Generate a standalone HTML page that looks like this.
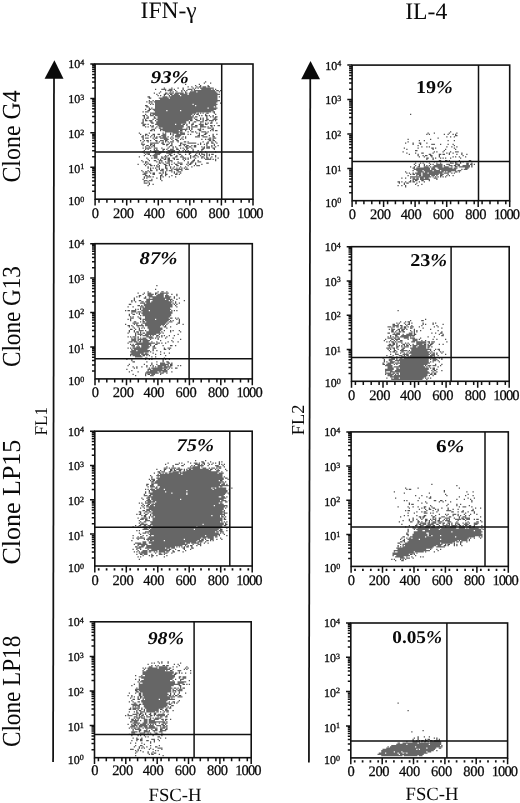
<!DOCTYPE html>
<html><head><meta charset="utf-8"><title>Figure</title>
<style>html,body{margin:0;padding:0;background:#fff}svg{display:block}</style></head>
<body>
<svg width="520" height="803" viewBox="0 0 520 803" font-family="'Liberation Serif', serif" fill="#0a0a0a" text-rendering="geometricPrecision">
<rect width="520" height="803" fill="#fff"/>
<text x="140.6" y="17.7" font-size="23.5">IFN-γ</text>
<text x="405.2" y="19.2" font-size="23.7">IL-4</text>
<g stroke="#111" stroke-width="1.75" fill="none"><path d="M54.0 70L53.1 761.9"/><path d="M310.3 70L308.9 762.4"/></g>
<path d="M54.4 60.2L63.5 78.8H44.6Z"/><path d="M310.5 61L320 79.2H301.2Z"/>
<text transform="translate(20.3 182.6) rotate(-90) scale(0.92 1)" font-size="26">Clone G4</text>
<text transform="translate(20.3 367) rotate(-90) scale(0.89 1)" font-size="26">Clone G13</text>
<text transform="translate(20.3 564.6) rotate(-90) scale(1.0 1)" font-size="26">Clone LP15</text>
<text transform="translate(20.1 747) rotate(-90) scale(0.89 1)" font-size="26">Clone LP18</text>
<text transform="translate(47.3 435.6) rotate(-90) scale(0.96 1)" font-size="18">FL1</text>
<text transform="translate(303.7 435.2) rotate(-90) scale(1 1)" font-size="18.3">FL2</text>
<text x="148.5" y="800.8" font-size="18.7">FSC-H</text>
<text x="405.5" y="800.2" font-size="18.7">FSC-H</text>
<g id="L1">
<path d="M202.5 86.88h3.75M200 88.12h13.75M161.25 89.38h5M168.75 89.38h3.75M187.5 89.38h5M201.25 89.38h10M167.5 90.62h5M193.75 90.62h21.25M190 91.88h6.25M197.5 91.88h18.75M168.75 93.12h5M175 93.12h8.75M188.75 93.12h28.75M173.75 94.38h5M180 94.38h7.5M188.75 94.38h31.25M171.25 95.62h8.75M181.25 95.62h36.25M162.5 96.88h5M168.75 96.88h48.75M158.75 98.12h10M170 98.12h47.5M160 99.38h57.5M155 100.62h65M148.75 101.88h3.75M153.75 101.88h63.75M155 103.12h61.25M155 104.38h37.5M193.75 104.38h23.75M155 105.62h40M196.25 105.62h20M155 106.88h58.75M155 108.12h52.5M208.75 108.12h8.75M152.5 109.38h63.75M153.75 110.62h12.5M167.5 110.62h12.5M181.25 110.62h32.5M145 111.88h3.75M155 111.88h56.25M150 113.12h46.25M152.5 114.38h40M150 115.62h3.75M155 115.62h36.25M157.5 116.88h36.25M157.5 118.12h35M156.25 119.38h36.25M212.5 119.38h5M148.75 120.62h3.75M157.5 120.62h31.25M196.25 120.62h3.75M208.75 120.62h5M156.25 121.88h30M200 121.88h3.75M156.25 123.12h30M142.5 124.38h3.75M155 124.38h20M176.25 124.38h5M198.75 124.38h5M157.5 125.62h26.25M200 125.62h3.75M158.75 126.88h25M191.25 126.88h6.25M200 126.88h6.25M162.5 128.12h20M207.5 128.12h3.75M151.25 129.38h3.75M160 129.38h27.5M197.5 129.38h3.75M162.5 130.62h16.25M165 131.88h17.5M201.25 131.88h5M172.5 133.12h6.25M180 133.12h5M162.5 134.38h3.75M176.25 134.38h8.75M161.25 135.62h5M175 135.62h6.25M162.5 136.88h3.75M175 136.88h5M195 136.88h5M202.5 136.88h5M145 138.12h3.75M160 138.12h7.5M212.5 138.12h3.75M163.75 139.38h5M207.5 139.38h3.75M160 140.62h3.75M170 141.88h3.75M150 143.12h8.75M187.5 143.12h8.75M141.25 144.38h3.75M182.5 144.38h3.75M206.25 146.88h3.75M145 148.12h6.25M153.75 148.12h3.75M206.25 148.12h3.75M170 149.38h3.75M153.75 150.62h5M167.5 150.62h7.5M152.5 151.88h3.75M158.75 151.88h6.25M171.25 151.88h3.75M185 151.88h6.25M146.25 153.12h3.75M155 153.12h6.25M166.25 153.12h6.25M153.75 154.38h6.25M201.25 154.38h3.75M152.5 155.62h5M193.75 155.62h3.75M153.75 156.88h3.75M163.75 156.88h3.75M180 156.88h3.75M153.75 158.12h3.75M182.5 158.12h3.75M205 159.38h6.25M158.75 160.62h3.75M167.5 160.62h5M197.5 161.88h3.75M166.25 163.12h3.75M177.5 163.12h5M196.25 165.62h3.75M156.25 166.88h3.75M173.75 169.38h8.75M185 169.38h3.75M160 170.62h3.75M168.75 170.62h3.75M177.5 171.88h3.75M143.75 173.12h3.75M142.5 174.38h3.75M146.25 176.88h5M143.75 180.62h3.75M148.75 180.62h3.75M143.75 183.12h3.75" stroke="#666666" stroke-width="1.25" fill="none"/>
<path d="M205 81.88h1.25M203.75 83.12h1.25M210 83.12h1.25M185 84.38h1.25M198.75 84.38h1.25M195 85.62h1.25M200 85.62h1.25M207.5 85.62h1.25M187.5 86.88h1.25M191.25 86.88h1.25M196.25 86.88h1.25M198.75 86.88h2.5M207.5 86.88h2.5M163.75 88.12h1.25M171.25 88.12h1.25M177.5 88.12h1.25M182.5 88.12h1.25M192.5 88.12h1.25M195 88.12h1.25M197.5 88.12h1.25M155 89.38h1.25M173.75 89.38h1.25M182.5 89.38h1.25M193.75 89.38h1.25M212.5 89.38h1.25M215 89.38h1.25M165 90.62h1.25M175 90.62h1.25M181.25 90.62h1.25M183.75 90.62h1.25M186.25 90.62h1.25M191.25 90.62h1.25M216.25 90.62h2.5M220 90.62h1.25M160 91.88h1.25M170 91.88h1.25M172.5 91.88h1.25M176.25 91.88h1.25M181.25 91.88h1.25M185 91.88h1.25M218.75 91.88h1.25M153.75 93.12h1.25M158.75 93.12h1.25M165 93.12h2.5M185 93.12h2.5M156.25 94.38h1.25M163.75 94.38h2.5M167.5 94.38h1.25M170 94.38h2.5M157.5 95.62h1.25M160 95.62h1.25M163.75 95.62h1.25M168.75 95.62h1.25M147.5 96.88h2.5M218.75 96.88h1.25M148.75 98.12h2.5M148.75 100.62h1.25M152.5 100.62h1.25M146.25 101.88h1.25M148.75 103.12h1.25M151.25 103.12h1.25M220 103.12h1.25M150 104.38h1.25M152.5 104.38h1.25M145 105.62h2.5M146.25 106.88h2.5M215 106.88h1.25M148.75 108.12h1.25M151.25 108.12h1.25M145 109.38h1.25M148.75 109.38h2.5M147.5 110.62h2.5M142.5 111.88h1.25M212.5 111.88h2.5M197.5 113.12h1.25M200 113.12h1.25M202.5 113.12h1.25M206.25 113.12h2.5M213.75 113.12h1.25M145 114.38h1.25M150 114.38h1.25M193.75 114.38h1.25M196.25 114.38h2.5M205 114.38h1.25M215 114.38h1.25M142.5 115.62h2.5M146.25 115.62h1.25M192.5 115.62h1.25M198.75 115.62h1.25M201.25 115.62h1.25M205 115.62h2.5M208.75 115.62h1.25M212.5 115.62h1.25M143.75 116.88h1.25M147.5 116.88h1.25M153.75 116.88h1.25M195 116.88h2.5M206.25 116.88h1.25M210 116.88h1.25M212.5 116.88h1.25M215 116.88h2.5M143.75 118.12h1.25M146.25 118.12h2.5M153.75 118.12h2.5M193.75 118.12h1.25M200 118.12h1.25M202.5 118.12h1.25M206.25 118.12h1.25M213.75 118.12h2.5M142.5 119.38h1.25M145 119.38h1.25M152.5 119.38h1.25M195 119.38h2.5M200 119.38h1.25M202.5 119.38h1.25M206.25 119.38h2.5M142.5 120.62h1.25M145 120.62h2.5M155 120.62h1.25M190 120.62h2.5M202.5 120.62h1.25M205 120.62h2.5M215 120.62h1.25M142.5 121.88h1.25M150 121.88h2.5M188.75 121.88h1.25M193.75 121.88h2.5M211.25 121.88h1.25M141.25 123.12h2.5M151.25 123.12h2.5M188.75 123.12h1.25M192.5 123.12h1.25M200 123.12h1.25M205 123.12h1.25M207.5 123.12h1.25M210 123.12h2.5M216.25 123.12h1.25M147.5 124.38h1.25M182.5 124.38h2.5M186.25 124.38h1.25M191.25 124.38h2.5M205 124.38h2.5M142.5 125.62h2.5M150 125.62h1.25M152.5 125.62h1.25M186.25 125.62h1.25M191.25 125.62h1.25M195 125.62h2.5M210 125.62h2.5M213.75 125.62h1.25M217.5 125.62h2.5M145 126.88h1.25M147.5 126.88h1.25M151.25 126.88h2.5M156.25 126.88h1.25M187.5 126.88h2.5M207.5 126.88h1.25M211.25 126.88h1.25M155 128.12h1.25M158.75 128.12h2.5M186.25 128.12h1.25M188.75 128.12h1.25M191.25 128.12h1.25M200 128.12h1.25M212.5 128.12h1.25M188.75 129.38h1.25M191.25 129.38h1.25M202.5 129.38h1.25M211.25 129.38h2.5M150 130.62h2.5M153.75 130.62h1.25M160 130.62h1.25M180 130.62h2.5M185 130.62h1.25M190 130.62h1.25M198.75 130.62h2.5M210 130.62h1.25M212.5 130.62h1.25M215 130.62h2.5M187.5 131.88h1.25M191.25 131.88h2.5M195 131.88h1.25M207.5 131.88h1.25M138.75 133.12h1.25M148.75 133.12h1.25M162.5 133.12h1.25M165 133.12h1.25M170 133.12h1.25M196.25 133.12h1.25M198.75 133.12h1.25M205 133.12h2.5M140 134.38h1.25M145 134.38h2.5M152.5 134.38h2.5M157.5 134.38h2.5M170 134.38h1.25M172.5 134.38h1.25M187.5 134.38h1.25M190 134.38h1.25M198.75 134.38h1.25M203.75 134.38h2.5M212.5 134.38h1.25M216.25 134.38h1.25M142.5 135.62h1.25M145 135.62h1.25M147.5 135.62h1.25M151.25 135.62h1.25M153.75 135.62h1.25M172.5 135.62h1.25M197.5 135.62h2.5M201.25 135.62h2.5M208.75 135.62h1.25M212.5 135.62h1.25M141.25 136.88h2.5M150 136.88h1.25M153.75 136.88h1.25M156.25 136.88h1.25M158.75 136.88h2.5M167.5 136.88h1.25M171.25 136.88h1.25M182.5 136.88h1.25M185 136.88h1.25M212.5 136.88h2.5M142.5 138.12h1.25M152.5 138.12h1.25M155 138.12h2.5M170 138.12h1.25M172.5 138.12h1.25M177.5 138.12h1.25M181.25 138.12h1.25M185 138.12h1.25M208.75 138.12h2.5M142.5 139.38h1.25M153.75 139.38h1.25M171.25 139.38h1.25M175 139.38h2.5M180 139.38h1.25M182.5 139.38h1.25M201.25 139.38h1.25M205 139.38h1.25M212.5 139.38h1.25M140 140.62h1.25M143.75 140.62h1.25M146.25 140.62h2.5M150 140.62h1.25M155 140.62h2.5M165 140.62h2.5M172.5 140.62h1.25M176.25 140.62h2.5M208.75 140.62h2.5M212.5 140.62h2.5M142.5 141.88h1.25M147.5 141.88h1.25M156.25 141.88h1.25M158.75 141.88h1.25M162.5 141.88h1.25M165 141.88h1.25M167.5 141.88h1.25M177.5 141.88h1.25M183.75 141.88h2.5M187.5 141.88h1.25M202.5 141.88h1.25M207.5 141.88h1.25M211.25 141.88h1.25M215 141.88h1.25M141.25 143.12h1.25M161.25 143.12h2.5M168.75 143.12h1.25M171.25 143.12h1.25M180 143.12h2.5M200 143.12h1.25M206.25 143.12h2.5M211.25 143.12h2.5M216.25 143.12h1.25M150 144.38h2.5M153.75 144.38h1.25M162.5 144.38h2.5M166.25 144.38h2.5M171.25 144.38h1.25M180 144.38h1.25M197.5 144.38h1.25M200 144.38h1.25M203.75 144.38h1.25M206.25 144.38h1.25M213.75 144.38h1.25M142.5 145.62h1.25M146.25 145.62h2.5M150 145.62h1.25M152.5 145.62h2.5M166.25 145.62h1.25M170 145.62h2.5M178.75 145.62h2.5M183.75 145.62h1.25M186.25 145.62h2.5M191.25 145.62h1.25M193.75 145.62h2.5M206.25 145.62h1.25M211.25 145.62h1.25M213.75 145.62h1.25M217.5 145.62h1.25M145 146.88h1.25M148.75 146.88h1.25M151.25 146.88h1.25M153.75 146.88h1.25M168.75 146.88h1.25M172.5 146.88h1.25M175 146.88h1.25M185 146.88h2.5M188.75 146.88h2.5M193.75 146.88h2.5M201.25 146.88h1.25M203.75 146.88h1.25M211.25 146.88h1.25M215 146.88h1.25M142.5 148.12h1.25M161.25 148.12h1.25M167.5 148.12h1.25M172.5 148.12h1.25M176.25 148.12h1.25M180 148.12h1.25M182.5 148.12h1.25M186.25 148.12h2.5M191.25 148.12h1.25M202.5 148.12h2.5M212.5 148.12h2.5M145 149.38h1.25M147.5 149.38h1.25M153.75 149.38h1.25M156.25 149.38h1.25M162.5 149.38h2.5M166.25 149.38h1.25M176.25 149.38h2.5M183.75 149.38h1.25M186.25 149.38h1.25M192.5 149.38h1.25M201.25 149.38h2.5M213.75 149.38h1.25M143.75 150.62h1.25M150 150.62h1.25M162.5 150.62h1.25M178.75 150.62h1.25M182.5 150.62h1.25M185 150.62h1.25M187.5 150.62h1.25M192.5 150.62h1.25M197.5 150.62h1.25M201.25 150.62h1.25M142.5 151.88h1.25M166.25 151.88h1.25M168.75 151.88h1.25M177.5 151.88h1.25M192.5 151.88h1.25M200 151.88h1.25M205 151.88h1.25M215 151.88h1.25M143.75 153.12h1.25M177.5 153.12h1.25M188.75 153.12h2.5M196.25 153.12h1.25M198.75 153.12h1.25M201.25 153.12h1.25M206.25 153.12h1.25M145 154.38h1.25M147.5 154.38h2.5M168.75 154.38h2.5M173.75 154.38h1.25M178.75 154.38h2.5M185 154.38h1.25M188.75 154.38h1.25M195 154.38h1.25M198.75 154.38h1.25M206.25 154.38h1.25M208.75 154.38h1.25M211.25 154.38h2.5M143.75 155.62h1.25M150 155.62h1.25M165 155.62h1.25M167.5 155.62h1.25M170 155.62h2.5M176.25 155.62h1.25M181.25 155.62h1.25M190 155.62h1.25M200 155.62h1.25M203.75 155.62h1.25M206.25 155.62h1.25M208.75 155.62h1.25M215 155.62h1.25M138.75 156.88h1.25M161.25 156.88h1.25M175 156.88h2.5M190 156.88h1.25M192.5 156.88h2.5M197.5 156.88h1.25M201.25 156.88h2.5M206.25 156.88h1.25M211.25 156.88h1.25M215 156.88h1.25M146.25 158.12h1.25M151.25 158.12h1.25M161.25 158.12h2.5M165 158.12h1.25M167.5 158.12h2.5M172.5 158.12h2.5M187.5 158.12h1.25M190 158.12h1.25M195 158.12h1.25M201.25 158.12h1.25M203.75 158.12h1.25M206.25 158.12h2.5M210 158.12h1.25M217.5 158.12h1.25M147.5 159.38h1.25M157.5 159.38h1.25M160 159.38h1.25M163.75 159.38h2.5M167.5 159.38h2.5M173.75 159.38h1.25M176.25 159.38h2.5M182.5 159.38h1.25M185 159.38h1.25M187.5 159.38h1.25M193.75 159.38h1.25M212.5 159.38h1.25M215 159.38h1.25M141.25 160.62h1.25M148.75 160.62h1.25M153.75 160.62h2.5M183.75 160.62h1.25M192.5 160.62h2.5M197.5 160.62h1.25M215 160.62h1.25M142.5 161.88h1.25M145 161.88h2.5M156.25 161.88h1.25M158.75 161.88h1.25M161.25 161.88h1.25M165 161.88h1.25M167.5 161.88h2.5M171.25 161.88h1.25M177.5 161.88h1.25M187.5 161.88h1.25M191.25 161.88h2.5M145 163.12h1.25M147.5 163.12h1.25M158.75 163.12h2.5M162.5 163.12h1.25M173.75 163.12h1.25M187.5 163.12h1.25M190 163.12h2.5M195 163.12h1.25M206.25 163.12h2.5M137.5 164.38h1.25M143.75 164.38h1.25M146.25 164.38h1.25M148.75 164.38h2.5M157.5 164.38h1.25M163.75 164.38h2.5M168.75 164.38h1.25M171.25 164.38h1.25M175 164.38h2.5M180 164.38h2.5M186.25 164.38h1.25M188.75 164.38h2.5M195 164.38h1.25M201.25 164.38h1.25M145 165.62h1.25M150 165.62h2.5M153.75 165.62h1.25M156.25 165.62h1.25M158.75 165.62h1.25M165 165.62h2.5M168.75 165.62h1.25M176.25 165.62h2.5M187.5 165.62h1.25M193.75 165.62h1.25M147.5 166.88h1.25M165 166.88h1.25M170 166.88h1.25M173.75 166.88h1.25M180 166.88h1.25M185 166.88h1.25M191.25 166.88h1.25M147.5 168.12h1.25M150 168.12h1.25M152.5 168.12h1.25M155 168.12h1.25M158.75 168.12h1.25M165 168.12h2.5M170 168.12h1.25M172.5 168.12h1.25M176.25 168.12h1.25M178.75 168.12h1.25M181.25 168.12h1.25M183.75 168.12h1.25M186.25 168.12h1.25M150 169.38h1.25M156.25 169.38h1.25M158.75 169.38h1.25M161.25 169.38h2.5M166.25 169.38h1.25M171.25 169.38h1.25M141.25 170.62h1.25M147.5 170.62h1.25M150 170.62h2.5M156.25 170.62h1.25M166.25 170.62h1.25M176.25 170.62h2.5M181.25 170.62h1.25M142.5 171.88h1.25M145 171.88h2.5M148.75 171.88h1.25M162.5 171.88h1.25M165 171.88h1.25M171.25 171.88h1.25M173.75 171.88h1.25M150 173.12h1.25M152.5 173.12h2.5M158.75 173.12h2.5M162.5 173.12h1.25M165 173.12h1.25M173.75 173.12h1.25M176.25 173.12h1.25M180 173.12h1.25M152.5 174.38h2.5M161.25 174.38h1.25M165 174.38h2.5M175 174.38h2.5M178.75 174.38h1.25M145 175.62h2.5M148.75 175.62h1.25M160 175.62h2.5M165 175.62h1.25M171.25 175.62h1.25M143.75 176.88h1.25M152.5 176.88h1.25M160 176.88h1.25M162.5 176.88h1.25M168.75 176.88h1.25M175 176.88h1.25M143.75 178.12h1.25M146.25 178.12h1.25M156.25 178.12h1.25M160 178.12h1.25M142.5 179.38h1.25M151.25 179.38h1.25M160 179.38h1.25M161.25 180.62h1.25M143.75 181.88h1.25M147.5 181.88h1.25M148.75 183.12h1.25M148.75 184.38h1.25M152.5 184.38h1.25M147.5 185.62h1.25" stroke="#525252" stroke-width="1.25" fill="none"/>
<g stroke="#111" fill="none"><rect x="95.1" y="64.0" width="157.9" height="135.2" stroke-width="1.6"/><path d="M221.7 64.0V199.2M95.1 152.1H253.0" stroke-width="1.5"/></g>
<path d="M95.1 191.2h-3.0M95.1 185.2h-3.0M95.1 180.9h-3.0M95.1 177.6h-3.0M95.1 174.8h-3.0M95.1 172.5h-3.0M95.1 170.5h-3.0M95.1 168.8h-3.0M95.1 167.2h-4.8M95.1 156.8h-3.0M95.1 150.8h-3.0M95.1 146.5h-3.0M95.1 143.2h-3.0M95.1 140.4h-3.0M95.1 138.1h-3.0M95.1 136.1h-3.0M95.1 134.4h-3.0M95.1 132.8h-4.8M95.1 122.4h-3.0M95.1 116.4h-3.0M95.1 112.1h-3.0M95.1 108.8h-3.0M95.1 106.0h-3.0M95.1 103.7h-3.0M95.1 101.7h-3.0M95.1 100.0h-3.0M95.1 98.4h-4.8M95.1 88.0h-3.0M95.1 82.0h-3.0M95.1 77.7h-3.0M95.1 74.4h-3.0M95.1 71.6h-3.0M95.1 69.3h-3.0M95.1 67.3h-3.0M95.1 65.6h-3.0M95.1 64.0h-4.8" stroke="#111" stroke-width="1.5" fill="none"/>
<path d="M95.1 199.2v6.4M126.7 199.2v6.4M158.3 199.2v6.4M189.8 199.2v6.4M221.4 199.2v6.4M253.0 199.2v6.4M99.0 199.2v3.6M106.9 199.2v3.6M114.8 199.2v3.6M122.7 199.2v3.6M130.6 199.2v3.6M138.5 199.2v3.6M146.4 199.2v3.6M154.3 199.2v3.6M162.2 199.2v3.6M170.1 199.2v3.6M178.0 199.2v3.6M185.9 199.2v3.6M193.8 199.2v3.6M201.7 199.2v3.6M209.6 199.2v3.6M217.5 199.2v3.6M225.4 199.2v3.6M233.3 199.2v3.6M241.2 199.2v3.6M249.1 199.2v3.6" stroke="#111" stroke-width="1.5" fill="none"/>
<text x="68.3" y="205.2" font-size="12" stroke="#0a0a0a" stroke-width="0.3">10<tspan dy="-3.4" font-size="8">0</tspan></text>
<text x="68.3" y="172.8" font-size="12" stroke="#0a0a0a" stroke-width="0.3">10<tspan dy="-3.4" font-size="8">1</tspan></text>
<text x="68.3" y="138.0" font-size="12" stroke="#0a0a0a" stroke-width="0.3">10<tspan dy="-3.4" font-size="8">2</tspan></text>
<text x="68.3" y="103.2" font-size="12" stroke="#0a0a0a" stroke-width="0.3">10<tspan dy="-3.4" font-size="8">3</tspan></text>
<text x="68.3" y="68.4" font-size="12" stroke="#0a0a0a" stroke-width="0.3">10<tspan dy="-3.4" font-size="8">4</tspan></text>
<text x="95.2" y="217.7" font-size="14.5" text-anchor="middle" letter-spacing="-0.3" stroke="#0a0a0a" stroke-width="0.25">0</text>
<text x="123.4" y="217.7" font-size="14.5" text-anchor="middle" letter-spacing="-0.3" stroke="#0a0a0a" stroke-width="0.25">200</text>
<text x="154.2" y="217.7" font-size="14.5" text-anchor="middle" letter-spacing="-0.3" stroke="#0a0a0a" stroke-width="0.25">400</text>
<text x="186.5" y="217.7" font-size="14.5" text-anchor="middle" letter-spacing="-0.3" stroke="#0a0a0a" stroke-width="0.25">600</text>
<text x="219.0" y="217.7" font-size="14.5" text-anchor="middle" letter-spacing="-0.3" stroke="#0a0a0a" stroke-width="0.25">800</text>
<text x="249.8" y="217.7" font-size="14.5" text-anchor="middle" letter-spacing="-0.9" stroke="#0a0a0a" stroke-width="0.25">1000</text>
<text transform="translate(150.8 82.7) scale(1.153 1)" font-size="18" font-weight="bold" font-style="italic">93<tspan font-style="italic">%</tspan></text>
</g>
<g id="L2">
<path d="M147.5 293.12h3.75M160 293.12h8.75M147.5 294.38h6.25M157.5 294.38h6.25M147.5 295.62h5M156.25 295.62h7.5M165 295.62h3.75M148.75 296.88h15M165 296.88h6.25M152.5 298.12h17.5M146.25 299.38h18.75M166.25 299.38h6.25M146.25 300.62h3.75M152.5 300.62h16.25M145 301.88h5M151.25 301.88h21.25M140 303.12h5M146.25 303.12h25M143.75 304.38h28.75M143.75 305.62h28.75M140 306.88h3.75M145 306.88h27.5M142.5 308.12h27.5M142.5 309.38h28.75M131.25 310.62h5M141.25 310.62h7.5M150 310.62h20M131.25 311.88h5M137.5 311.88h3.75M142.5 311.88h30M141.25 313.12h31.25M142.5 314.38h28.75M142.5 315.62h28.75M145 316.88h25M130 318.12h3.75M145 318.12h23.75M142.5 319.38h12.5M156.25 319.38h13.75M145 320.62h23.75M146.25 321.88h21.25M168.75 321.88h3.75M132.5 323.12h6.25M142.5 323.12h23.75M145 324.38h20M136.25 325.62h7.5M145 325.62h16.25M147.5 326.88h12.5M147.5 328.12h15M148.75 329.38h13.75M138.75 330.62h5M148.75 330.62h12.5M146.25 331.88h13.75M146.25 333.12h15M137.5 334.38h5M145 334.38h11.25M142.5 335.62h6.25M132.5 336.88h3.75M146.25 336.88h6.25M142.5 338.12h3.75M148.75 338.12h5M131.25 339.38h5M137.5 339.38h10M131.25 340.62h5M142.5 340.62h7.5M128.75 341.88h3.75M133.75 341.88h3.75M142.5 341.88h6.25M136.25 343.12h18.75M156.25 343.12h3.75M135 344.38h16.25M131.25 345.62h3.75M141.25 345.62h7.5M136.25 346.88h3.75M141.25 346.88h8.75M132.5 348.12h16.25M152.5 348.12h3.75M167.5 348.12h3.75M133.75 349.38h13.75M131.25 350.62h5M137.5 350.62h12.5M130 351.88h18.75M131.25 353.12h12.5M130 354.38h10M141.25 354.38h7.5M132.5 355.62h8.75M135 356.88h7.5M160 363.12h5M160 364.38h8.75M157.5 365.62h8.75M157.5 366.88h5M163.75 366.88h7.5M151.25 368.12h16.25M147.5 369.38h3.75M152.5 369.38h10M150 370.62h17.5M146.25 371.88h11.25M162.5 371.88h5M145 373.12h13.75M160 373.12h3.75M151.25 374.38h3.75M150 375.62h3.75" stroke="#666666" stroke-width="1.25" fill="none"/>
<path d="M156.25 285.62h1.25M155 289.38h1.25M147.5 291.88h1.25M157.5 291.88h1.25M161.25 291.88h2.5M166.25 291.88h1.25M137.5 293.12h1.25M143.75 293.12h1.25M155 293.12h2.5M142.5 294.38h1.25M155 294.38h1.25M166.25 294.38h1.25M171.25 294.38h1.25M176.25 294.38h1.25M138.75 295.62h2.5M176.25 295.62h1.25M136.25 296.88h1.25M138.75 296.88h1.25M145 296.88h1.25M173.75 296.88h1.25M133.75 298.12h1.25M143.75 298.12h2.5M148.75 298.12h1.25M173.75 298.12h1.25M178.75 298.12h1.25M133.75 299.38h1.25M176.25 299.38h1.25M131.25 300.62h1.25M133.75 300.62h1.25M138.75 300.62h2.5M170 300.62h1.25M172.5 300.62h1.25M183.75 300.62h1.25M131.25 301.88h1.25M135 301.88h1.25M141.25 301.88h2.5M175 301.88h1.25M172.5 303.12h1.25M175 303.12h1.25M178.75 303.12h1.25M128.75 304.38h2.5M173.75 304.38h1.25M176.25 304.38h1.25M137.5 305.62h2.5M141.25 305.62h1.25M175 305.62h1.25M127.5 306.88h1.25M132.5 306.88h1.25M176.25 306.88h1.25M140 308.12h1.25M135 309.38h1.25M137.5 309.38h1.25M140 309.38h1.25M125 310.62h1.25M127.5 310.62h2.5M171.25 310.62h1.25M173.75 310.62h1.25M176.25 310.62h1.25M131.25 313.12h1.25M136.25 313.12h1.25M138.75 313.12h1.25M128.75 314.38h1.25M132.5 314.38h2.5M138.75 314.38h1.25M128.75 315.62h1.25M140 315.62h1.25M130 316.88h1.25M132.5 316.88h1.25M137.5 316.88h1.25M138.75 318.12h2.5M170 318.12h2.5M175 318.12h1.25M177.5 318.12h1.25M127.5 319.38h1.25M130 319.38h1.25M140 319.38h1.25M176.25 319.38h1.25M178.75 319.38h1.25M130 320.62h1.25M142.5 320.62h1.25M170 320.62h1.25M172.5 320.62h1.25M178.75 320.62h1.25M133.75 321.88h2.5M140 321.88h1.25M142.5 321.88h2.5M178.75 321.88h1.25M167.5 323.12h1.25M177.5 323.12h2.5M125 324.38h1.25M133.75 324.38h1.25M136.25 324.38h1.25M141.25 324.38h1.25M166.25 324.38h1.25M176.25 324.38h1.25M182.5 324.38h1.25M127.5 325.62h2.5M131.25 325.62h1.25M162.5 325.62h1.25M165 325.62h1.25M128.75 326.88h1.25M132.5 326.88h1.25M137.5 326.88h1.25M142.5 326.88h1.25M163.75 326.88h2.5M170 326.88h1.25M133.75 328.12h1.25M138.75 328.12h1.25M141.25 328.12h1.25M143.75 328.12h1.25M166.25 328.12h1.25M130 329.38h2.5M135 329.38h1.25M138.75 329.38h1.25M128.75 330.62h1.25M133.75 330.62h1.25M145 330.62h1.25M163.75 330.62h1.25M170 330.62h1.25M172.5 330.62h1.25M178.75 330.62h1.25M128.75 331.88h1.25M133.75 331.88h1.25M136.25 331.88h2.5M140 331.88h1.25M161.25 331.88h1.25M170 331.88h1.25M180 331.88h1.25M127.5 333.12h1.25M135 333.12h1.25M137.5 333.12h1.25M140 333.12h1.25M142.5 333.12h2.5M162.5 333.12h1.25M135 334.38h1.25M158.75 334.38h1.25M177.5 334.38h1.25M135 335.62h1.25M140 335.62h1.25M150 335.62h1.25M152.5 335.62h1.25M156.25 335.62h2.5M161.25 335.62h1.25M163.75 335.62h1.25M168.75 335.62h1.25M173.75 335.62h1.25M127.5 336.88h1.25M130 336.88h1.25M137.5 336.88h1.25M156.25 336.88h1.25M158.75 336.88h1.25M161.25 336.88h1.25M166.25 336.88h1.25M131.25 338.12h1.25M133.75 338.12h2.5M137.5 338.12h1.25M140 338.12h1.25M155 338.12h1.25M157.5 338.12h1.25M165 338.12h1.25M172.5 338.12h1.25M150 339.38h1.25M157.5 339.38h1.25M180 339.38h1.25M137.5 340.62h1.25M140 340.62h1.25M160 340.62h1.25M171.25 340.62h1.25M138.75 341.88h2.5M151.25 341.88h1.25M156.25 341.88h1.25M167.5 341.88h1.25M172.5 341.88h1.25M177.5 341.88h1.25M127.5 343.12h1.25M161.25 343.12h1.25M165 343.12h1.25M130 344.38h1.25M132.5 344.38h1.25M155 344.38h2.5M137.5 345.62h1.25M150 345.62h1.25M153.75 345.62h1.25M162.5 345.62h1.25M170 345.62h2.5M175 345.62h1.25M132.5 346.88h2.5M152.5 346.88h2.5M127.5 348.12h1.25M130 348.12h1.25M163.75 348.12h1.25M131.25 349.38h1.25M152.5 349.38h1.25M163.75 349.38h2.5M168.75 349.38h1.25M152.5 350.62h1.25M156.25 350.62h1.25M150 351.88h1.25M160 351.88h1.25M145 353.12h2.5M152.5 353.12h1.25M163.75 353.12h1.25M168.75 353.12h1.25M155 354.38h1.25M160 354.38h1.25M130 355.62h1.25M142.5 355.62h2.5M146.25 355.62h1.25M148.75 355.62h1.25M165 355.62h1.25M151.25 356.88h1.25M155 356.88h1.25M145 358.12h2.5M163.75 358.12h1.25M126.25 359.38h1.25M131.25 359.38h1.25M145 359.38h1.25M148.75 359.38h1.25M151.25 359.38h1.25M162.5 359.38h1.25M165 359.38h1.25M168.75 359.38h1.25M131.25 360.62h1.25M162.5 360.62h1.25M132.5 361.88h2.5M146.25 361.88h1.25M156.25 361.88h1.25M162.5 361.88h1.25M166.25 361.88h2.5M151.25 363.12h1.25M167.5 363.12h2.5M171.25 363.12h1.25M128.75 364.38h1.25M143.75 364.38h1.25M151.25 364.38h1.25M156.25 364.38h1.25M170 364.38h2.5M127.5 365.62h1.25M146.25 365.62h1.25M150 365.62h1.25M152.5 365.62h1.25M167.5 365.62h1.25M170 365.62h2.5M177.5 365.62h1.25M180 365.62h1.25M132.5 366.88h1.25M136.25 366.88h1.25M141.25 366.88h1.25M146.25 366.88h1.25M152.5 366.88h1.25M155 366.88h1.25M133.75 368.12h1.25M136.25 368.12h1.25M148.75 368.12h1.25M168.75 368.12h1.25M171.25 368.12h1.25M175 368.12h2.5M126.25 369.38h1.25M163.75 369.38h2.5M167.5 369.38h1.25M131.25 370.62h1.25M147.5 370.62h1.25M128.75 371.88h1.25M137.5 371.88h1.25M158.75 371.88h2.5M171.25 371.88h1.25M166.25 373.12h1.25M132.5 374.38h1.25M145 374.38h1.25M147.5 374.38h2.5M160 374.38h1.25M135 375.62h1.25M145 375.62h1.25" stroke="#525252" stroke-width="1.25" fill="none"/>
<g stroke="#111" fill="none"><rect x="95.0" y="243.7" width="157.3" height="135.2" stroke-width="1.6"/><path d="M189.1 243.7V378.9M95.0 358.7H252.3" stroke-width="1.5"/></g>
<path d="M95.0 370.9h-3.0M95.0 364.9h-3.0M95.0 360.6h-3.0M95.0 357.3h-3.0M95.0 354.5h-3.0M95.0 352.2h-3.0M95.0 350.2h-3.0M95.0 348.5h-3.0M95.0 346.9h-4.8M95.0 336.5h-3.0M95.0 330.5h-3.0M95.0 326.2h-3.0M95.0 322.9h-3.0M95.0 320.1h-3.0M95.0 317.8h-3.0M95.0 315.8h-3.0M95.0 314.1h-3.0M95.0 312.5h-4.8M95.0 302.1h-3.0M95.0 296.1h-3.0M95.0 291.8h-3.0M95.0 288.5h-3.0M95.0 285.7h-3.0M95.0 283.4h-3.0M95.0 281.4h-3.0M95.0 279.7h-3.0M95.0 278.1h-4.8M95.0 267.7h-3.0M95.0 261.7h-3.0M95.0 257.4h-3.0M95.0 254.1h-3.0M95.0 251.3h-3.0M95.0 249.0h-3.0M95.0 247.0h-3.0M95.0 245.3h-3.0M95.0 243.7h-4.8" stroke="#111" stroke-width="1.5" fill="none"/>
<path d="M95.0 378.9v6.4M126.5 378.9v6.4M157.9 378.9v6.4M189.4 378.9v6.4M220.8 378.9v6.4M252.3 378.9v6.4M98.9 378.9v3.6M106.8 378.9v3.6M114.7 378.9v3.6M122.5 378.9v3.6M130.4 378.9v3.6M138.3 378.9v3.6M146.1 378.9v3.6M154.0 378.9v3.6M161.9 378.9v3.6M169.7 378.9v3.6M177.6 378.9v3.6M185.4 378.9v3.6M193.3 378.9v3.6M201.2 378.9v3.6M209.0 378.9v3.6M216.9 378.9v3.6M224.8 378.9v3.6M232.6 378.9v3.6M240.5 378.9v3.6M248.4 378.9v3.6" stroke="#111" stroke-width="1.5" fill="none"/>
<text x="68.2" y="384.9" font-size="12" stroke="#0a0a0a" stroke-width="0.3">10<tspan dy="-3.4" font-size="8">0</tspan></text>
<text x="68.2" y="352.5" font-size="12" stroke="#0a0a0a" stroke-width="0.3">10<tspan dy="-3.4" font-size="8">1</tspan></text>
<text x="68.2" y="317.7" font-size="12" stroke="#0a0a0a" stroke-width="0.3">10<tspan dy="-3.4" font-size="8">2</tspan></text>
<text x="68.2" y="282.9" font-size="12" stroke="#0a0a0a" stroke-width="0.3">10<tspan dy="-3.4" font-size="8">3</tspan></text>
<text x="68.2" y="248.1" font-size="12" stroke="#0a0a0a" stroke-width="0.3">10<tspan dy="-3.4" font-size="8">4</tspan></text>
<text x="95.2" y="396.9" font-size="14.5" text-anchor="middle" letter-spacing="-0.3" stroke="#0a0a0a" stroke-width="0.25">0</text>
<text x="123.2" y="396.9" font-size="14.5" text-anchor="middle" letter-spacing="-0.3" stroke="#0a0a0a" stroke-width="0.25">200</text>
<text x="153.9" y="396.9" font-size="14.5" text-anchor="middle" letter-spacing="-0.3" stroke="#0a0a0a" stroke-width="0.25">400</text>
<text x="186.0" y="396.9" font-size="14.5" text-anchor="middle" letter-spacing="-0.3" stroke="#0a0a0a" stroke-width="0.25">600</text>
<text x="218.4" y="396.9" font-size="14.5" text-anchor="middle" letter-spacing="-0.3" stroke="#0a0a0a" stroke-width="0.25">800</text>
<text x="249.1" y="396.9" font-size="14.5" text-anchor="middle" letter-spacing="-0.9" stroke="#0a0a0a" stroke-width="0.25">1000</text>
<text transform="translate(139.6 264.1) scale(1.144 1)" font-size="18" font-weight="bold" font-style="italic">87<tspan font-style="italic">%</tspan></text>
</g>
<g id="L3">
<path d="M193.75 463.12h3.75M175 464.38h3.75M195 464.38h5M197.5 465.62h6.25M215 465.62h3.75M192.5 466.88h7.5M216.25 466.88h5M163.75 468.12h3.75M171.25 468.12h5M187.5 468.12h12.5M202.5 468.12h3.75M211.25 468.12h3.75M176.25 469.38h6.25M192.5 469.38h16.25M186.25 470.62h25M216.25 470.62h3.75M161.25 471.88h3.75M172.5 471.88h8.75M182.5 471.88h36.25M168.75 473.12h10M180 473.12h37.5M218.75 473.12h5M160 474.38h21.25M182.5 474.38h40M156.25 475.62h66.25M160 476.88h62.5M156.25 478.12h67.5M151.25 479.38h3.75M157.5 479.38h66.25M156.25 480.62h62.5M155 481.88h68.75M151.25 483.12h70M157.5 484.38h62.5M221.25 484.38h3.75M150 485.62h3.75M157.5 485.62h71.25M150 486.88h5M160 486.88h58.75M158.75 488.12h52.5M216.25 488.12h10M150 489.38h5M156.25 489.38h7.5M165 489.38h47.5M213.75 489.38h12.5M151.25 490.62h35M187.5 490.62h40M152.5 491.88h12.5M166.25 491.88h61.25M148.75 493.12h22.5M172.5 493.12h13.75M187.5 493.12h38.75M150 494.38h36.25M187.5 494.38h37.5M143.75 495.62h3.75M152.5 495.62h71.25M147.5 496.88h71.25M221.25 496.88h3.75M146.25 498.12h3.75M151.25 498.12h75M151.25 499.38h28.75M181.25 499.38h42.5M146.25 500.62h5M152.5 500.62h67.5M221.25 500.62h5M147.5 501.88h7.5M156.25 501.88h66.25M145 503.12h6.25M155 503.12h63.75M151.25 504.38h72.5M150 505.62h3.75M155 505.62h58.75M215 505.62h12.5M146.25 506.88h78.75M148.75 508.12h75M146.25 509.38h77.5M146.25 510.62h3.75M151.25 510.62h71.25M152.5 511.88h72.5M151.25 513.12h71.25M223.75 513.12h3.75M152.5 514.38h72.5M152.5 515.62h58.75M212.5 515.62h7.5M155 516.88h65M141.25 518.12h6.25M152.5 518.12h70M140 519.38h3.75M152.5 519.38h70M145 520.62h5M152.5 520.62h70M150 521.88h70M151.25 523.12h72.5M140 524.38h7.5M150 524.38h52.5M203.75 524.38h20M147.5 525.62h3.75M152.5 525.62h70M142.5 526.88h5M148.75 526.88h47.5M197.5 526.88h25M143.75 528.12h3.75M151.25 528.12h70M142.5 529.38h6.25M150 529.38h43.75M195 529.38h23.75M148.75 530.62h68.75M218.75 530.62h3.75M145 531.88h70M220 531.88h3.75M142.5 533.12h3.75M150 533.12h68.75M148.75 534.38h71.25M153.75 535.62h51.25M206.25 535.62h11.25M148.75 536.88h65M136.25 538.12h8.75M147.5 538.12h53.75M202.5 538.12h3.75M207.5 538.12h6.25M146.25 539.38h37.5M185 539.38h15M210 539.38h3.75M153.75 540.62h10M165 540.62h32.5M198.75 540.62h5M142.5 541.88h3.75M148.75 541.88h47.5M197.5 541.88h5M135 543.12h6.25M142.5 543.12h3.75M148.75 543.12h36.25M186.25 543.12h3.75M191.25 543.12h7.5M137.5 544.38h10M151.25 544.38h36.25M197.5 544.38h3.75M141.25 545.62h3.75M146.25 545.62h36.25M138.75 546.88h5M146.25 546.88h28.75M136.25 548.12h5M145 548.12h20M166.25 548.12h3.75M171.25 548.12h3.75M151.25 549.38h16.25M142.5 550.62h5M148.75 550.62h8.75M158.75 550.62h11.25M141.25 551.88h6.25M158.75 551.88h6.25M138.75 553.12h8.75M163.75 553.12h3.75M143.75 554.38h3.75M158.75 554.38h3.75" stroke="#666666" stroke-width="1.25" fill="none"/>
<path d="M195 460.62h1.25M205 460.62h1.25M187.5 461.88h1.25M201.25 461.88h2.5M210 461.88h1.25M218.75 461.88h1.25M221.25 461.88h1.25M167.5 463.12h1.25M178.75 463.12h1.25M181.25 463.12h1.25M190 463.12h1.25M198.75 463.12h1.25M202.5 463.12h2.5M207.5 463.12h1.25M212.5 463.12h1.25M215 463.12h1.25M218.75 463.12h1.25M165 464.38h1.25M183.75 464.38h1.25M201.25 464.38h1.25M203.75 464.38h1.25M208.75 464.38h1.25M211.25 464.38h1.25M218.75 464.38h1.25M221.25 464.38h1.25M223.75 464.38h1.25M172.5 465.62h1.25M181.25 465.62h2.5M191.25 465.62h1.25M193.75 465.62h1.25M207.5 465.62h1.25M222.5 465.62h1.25M166.25 466.88h1.25M172.5 466.88h1.25M190 466.88h1.25M201.25 466.88h1.25M223.75 466.88h1.25M168.75 468.12h1.25M177.5 468.12h2.5M208.75 468.12h1.25M216.25 468.12h1.25M218.75 468.12h2.5M156.25 469.38h1.25M163.75 469.38h2.5M170 469.38h2.5M173.75 469.38h1.25M183.75 469.38h1.25M186.25 469.38h1.25M188.75 469.38h2.5M210 469.38h2.5M215 469.38h1.25M217.5 469.38h1.25M225 469.38h1.25M160 470.62h1.25M163.75 470.62h1.25M170 470.62h2.5M173.75 470.62h2.5M178.75 470.62h2.5M183.75 470.62h1.25M226.25 470.62h1.25M157.5 471.88h2.5M168.75 471.88h2.5M221.25 471.88h1.25M153.75 473.12h1.25M158.75 473.12h2.5M162.5 473.12h1.25M165 473.12h2.5M157.5 474.38h1.25M150 475.62h1.25M151.25 476.88h1.25M157.5 476.88h1.25M223.75 476.88h1.25M151.25 478.12h1.25M225 478.12h2.5M148.75 479.38h1.25M227.5 479.38h1.25M150 480.62h1.25M152.5 480.62h2.5M220 480.62h2.5M151.25 481.88h2.5M225 481.88h1.25M222.5 483.12h2.5M146.25 484.38h2.5M151.25 484.38h2.5M226.25 484.38h1.25M146.25 485.62h1.25M147.5 486.88h1.25M156.25 486.88h1.25M220 486.88h2.5M151.25 488.12h1.25M155 488.12h2.5M212.5 488.12h2.5M231.25 488.12h1.25M145 489.38h1.25M147.5 489.38h1.25M228.75 489.38h1.25M148.75 490.62h1.25M145 491.88h1.25M148.75 491.88h1.25M145 493.12h1.25M227.5 493.12h1.25M143.75 494.38h1.25M228.75 494.38h1.25M148.75 495.62h2.5M226.25 496.88h1.25M141.25 498.12h1.25M142.5 499.38h1.25M147.5 499.38h2.5M228.75 500.62h1.25M145 501.88h1.25M225 501.88h2.5M138.75 503.12h1.25M141.25 503.12h1.25M152.5 503.12h1.25M220 503.12h2.5M142.5 504.38h1.25M147.5 504.38h2.5M141.25 505.62h1.25M143.75 505.62h1.25M146.25 505.62h2.5M142.5 506.88h1.25M226.25 506.88h1.25M140 508.12h1.25M143.75 508.12h1.25M225 508.12h1.25M142.5 510.62h2.5M223.75 510.62h1.25M138.75 511.88h2.5M145 511.88h2.5M148.75 511.88h2.5M140 513.12h1.25M143.75 513.12h1.25M147.5 513.12h1.25M136.25 514.38h1.25M138.75 514.38h2.5M145 514.38h2.5M150 514.38h1.25M141.25 515.62h1.25M143.75 515.62h2.5M150 515.62h1.25M221.25 515.62h1.25M223.75 515.62h1.25M143.75 516.88h2.5M148.75 516.88h1.25M151.25 516.88h2.5M221.25 516.88h2.5M225 516.88h1.25M137.5 518.12h1.25M148.75 518.12h1.25M223.75 518.12h1.25M145 519.38h2.5M223.75 519.38h2.5M138.75 520.62h1.25M140 521.88h1.25M143.75 521.88h2.5M221.25 521.88h1.25M223.75 521.88h1.25M226.25 521.88h1.25M138.75 523.12h1.25M141.25 523.12h2.5M225 523.12h1.25M225 524.38h2.5M135 525.62h1.25M138.75 525.62h2.5M143.75 525.62h2.5M223.75 525.62h2.5M132.5 526.88h1.25M137.5 526.88h1.25M148.75 528.12h1.25M226.25 528.12h1.25M220 529.38h2.5M136.25 530.62h1.25M138.75 530.62h1.25M226.25 530.62h1.25M216.25 531.88h2.5M138.75 533.12h1.25M147.5 533.12h1.25M220 533.12h1.25M222.5 533.12h1.25M140 534.38h1.25M223.75 534.38h1.25M132.5 535.62h1.25M142.5 535.62h1.25M146.25 535.62h1.25M150 535.62h1.25M218.75 535.62h1.25M226.25 535.62h1.25M137.5 536.88h1.25M140 536.88h2.5M215 536.88h2.5M132.5 538.12h1.25M220 538.12h1.25M137.5 539.38h1.25M143.75 539.38h1.25M201.25 539.38h2.5M205 539.38h1.25M216.25 539.38h1.25M221.25 539.38h1.25M131.25 540.62h1.25M147.5 540.62h1.25M150 540.62h2.5M206.25 540.62h2.5M210 540.62h1.25M212.5 540.62h1.25M205 541.88h1.25M200 543.12h1.25M203.75 543.12h1.25M207.5 543.12h1.25M133.75 544.38h1.25M192.5 544.38h1.25M137.5 545.62h1.25M185 545.62h1.25M187.5 545.62h1.25M190 545.62h2.5M196.25 545.62h1.25M200 545.62h1.25M135 546.88h2.5M176.25 546.88h1.25M178.75 546.88h1.25M181.25 546.88h1.25M183.75 546.88h1.25M186.25 546.88h2.5M191.25 546.88h1.25M182.5 548.12h2.5M191.25 548.12h2.5M132.5 549.38h1.25M136.25 549.38h1.25M140 549.38h1.25M147.5 549.38h1.25M168.75 549.38h2.5M175 549.38h1.25M183.75 549.38h1.25M190 549.38h1.25M137.5 550.62h1.25M172.5 550.62h1.25M177.5 550.62h2.5M185 550.62h1.25M133.75 551.88h1.25M136.25 551.88h1.25M138.75 551.88h1.25M148.75 551.88h2.5M153.75 551.88h1.25M156.25 551.88h1.25M166.25 551.88h2.5M172.5 551.88h2.5M182.5 551.88h1.25M155 553.12h1.25M158.75 553.12h2.5M171.25 553.12h1.25M136.25 554.38h1.25M140 554.38h2.5M151.25 554.38h1.25M163.75 554.38h1.25M142.5 555.62h1.25M148.75 555.62h1.25M151.25 555.62h2.5M156.25 555.62h1.25M166.25 555.62h1.25M137.5 556.88h1.25M140 556.88h1.25M151.25 556.88h1.25M163.75 556.88h1.25M138.75 559.38h1.25" stroke="#525252" stroke-width="1.25" fill="none"/>
<g stroke="#111" fill="none"><rect x="94.8" y="431.2" width="157.4" height="134.8" stroke-width="1.6"/><path d="M229.8 431.2V566.0M94.8 527.3H252.2" stroke-width="1.5"/></g>
<path d="M94.8 558.1h-3.0M94.8 552.0h-3.0M94.8 547.7h-3.0M94.8 544.4h-3.0M94.8 541.7h-3.0M94.8 539.4h-3.0M94.8 537.4h-3.0M94.8 535.7h-3.0M94.8 534.1h-4.8M94.8 523.8h-3.0M94.8 517.7h-3.0M94.8 513.4h-3.0M94.8 510.1h-3.0M94.8 507.4h-3.0M94.8 505.1h-3.0M94.8 503.1h-3.0M94.8 501.4h-3.0M94.8 499.8h-4.8M94.8 489.5h-3.0M94.8 483.4h-3.0M94.8 479.1h-3.0M94.8 475.8h-3.0M94.8 473.1h-3.0M94.8 470.8h-3.0M94.8 468.8h-3.0M94.8 467.1h-3.0M94.8 465.5h-4.8M94.8 455.2h-3.0M94.8 449.1h-3.0M94.8 444.8h-3.0M94.8 441.5h-3.0M94.8 438.8h-3.0M94.8 436.5h-3.0M94.8 434.5h-3.0M94.8 432.8h-3.0M94.8 431.2h-4.8" stroke="#111" stroke-width="1.5" fill="none"/>
<path d="M94.8 566.0v6.4M126.3 566.0v6.4M157.8 566.0v6.4M189.2 566.0v6.4M220.7 566.0v6.4M252.2 566.0v6.4" stroke="#111" stroke-width="1.5" fill="none"/>
<path d="M98.7 568.3v2.2M106.6 568.3v2.2M114.5 568.3v2.2M122.3 568.3v2.2M130.2 568.3v2.2M138.1 568.3v2.2M146.0 568.3v2.2M153.8 568.3v2.2M161.7 568.3v2.2M169.6 568.3v2.2M177.4 568.3v2.2M185.3 568.3v2.2M193.2 568.3v2.2M201.0 568.3v2.2M208.9 568.3v2.2M216.8 568.3v2.2M224.7 568.3v2.2M232.5 568.3v2.2M240.4 568.3v2.2M248.3 568.3v2.2" stroke="#111" stroke-width="1.7" fill="none"/>
<text x="68.0" y="572.0" font-size="12" stroke="#0a0a0a" stroke-width="0.3">10<tspan dy="-3.4" font-size="8">0</tspan></text>
<text x="68.0" y="539.7" font-size="12" stroke="#0a0a0a" stroke-width="0.3">10<tspan dy="-3.4" font-size="8">1</tspan></text>
<text x="68.0" y="505.0" font-size="12" stroke="#0a0a0a" stroke-width="0.3">10<tspan dy="-3.4" font-size="8">2</tspan></text>
<text x="68.0" y="470.3" font-size="12" stroke="#0a0a0a" stroke-width="0.3">10<tspan dy="-3.4" font-size="8">3</tspan></text>
<text x="68.0" y="435.6" font-size="12" stroke="#0a0a0a" stroke-width="0.3">10<tspan dy="-3.4" font-size="8">4</tspan></text>
<text x="95.0" y="584.5" font-size="14.5" text-anchor="middle" letter-spacing="-0.3" stroke="#0a0a0a" stroke-width="0.25">0</text>
<text x="123.0" y="584.5" font-size="14.5" text-anchor="middle" letter-spacing="-0.3" stroke="#0a0a0a" stroke-width="0.25">200</text>
<text x="153.7" y="584.5" font-size="14.5" text-anchor="middle" letter-spacing="-0.3" stroke="#0a0a0a" stroke-width="0.25">400</text>
<text x="185.9" y="584.5" font-size="14.5" text-anchor="middle" letter-spacing="-0.3" stroke="#0a0a0a" stroke-width="0.25">600</text>
<text x="218.3" y="584.5" font-size="14.5" text-anchor="middle" letter-spacing="-0.3" stroke="#0a0a0a" stroke-width="0.25">800</text>
<text x="248.9" y="584.5" font-size="14.5" text-anchor="middle" letter-spacing="-0.9" stroke="#0a0a0a" stroke-width="0.25">1000</text>
<text transform="translate(176.6 451.1) scale(1.135 1)" font-size="18" font-weight="bold" font-style="italic">75<tspan font-style="italic">%</tspan></text>
</g>
<g id="L4">
<path d="M148.75 666.88h3.75M158.75 666.88h8.75M147.5 668.12h10M158.75 668.12h8.75M147.5 669.38h22.5M146.25 670.62h18.75M177.5 670.62h3.75M142.5 671.88h31.25M142.5 673.12h31.25M142.5 674.38h30M145 675.62h30M138.75 676.88h36.25M182.5 676.88h3.75M141.25 678.12h32.5M182.5 678.12h3.75M143.75 679.38h28.75M180 679.38h3.75M141.25 680.62h28.75M140 681.88h35M177.5 681.88h8.75M142.5 683.12h32.5M177.5 683.12h6.25M138.75 684.38h41.25M138.75 685.62h35M138.75 686.88h32.5M138.75 688.12h33.75M135 689.38h36.25M178.75 689.38h3.75M138.75 690.62h32.5M172.5 690.62h3.75M177.5 690.62h5M140 691.88h31.25M142.5 693.12h25M142.5 694.38h26.25M142.5 695.62h25M143.75 696.88h31.25M177.5 696.88h5M142.5 698.12h27.5M145 699.38h13.75M160 699.38h15M141.25 700.62h26.25M141.25 701.88h25M142.5 703.12h27.5M131.25 704.38h6.25M142.5 704.38h25M132.5 705.62h7.5M143.75 705.62h23.75M143.75 706.88h22.5M132.5 708.12h7.5M145 708.12h18.75M132.5 709.38h3.75M146.25 709.38h12.5M146.25 710.62h12.5M165 710.62h3.75M140 711.88h5M146.25 711.88h8.75M132.5 714.38h5M157.5 714.38h7.5M127.5 715.62h5M156.25 715.62h8.75M133.75 716.88h3.75M138.75 716.88h3.75M146.25 716.88h5M136.25 718.12h3.75M141.25 718.12h3.75M155 718.12h6.25M143.75 719.38h3.75M153.75 719.38h5M131.25 720.62h7.5M143.75 720.62h3.75M148.75 720.62h6.25M133.75 721.88h3.75M143.75 721.88h3.75M148.75 721.88h16.25M132.5 723.12h7.5M142.5 723.12h5M148.75 723.12h7.5M162.5 723.12h5M140 724.38h6.25M131.25 725.62h6.25M138.75 725.62h8.75M148.75 725.62h5M156.25 725.62h5M130 726.88h5M138.75 726.88h3.75M143.75 726.88h3.75M148.75 726.88h6.25M162.5 726.88h5M145 728.12h12.5M160 728.12h5M135 729.38h6.25M143.75 730.62h3.75M152.5 730.62h5M160 730.62h6.25M131.25 731.88h6.25M143.75 731.88h6.25M158.75 731.88h3.75M131.25 733.12h3.75M140 733.12h5M151.25 739.38h3.75M157.5 748.12h5M130 749.38h3.75" stroke="#666666" stroke-width="1.25" fill="none"/>
<path d="M157.5 661.88h1.25M161.25 661.88h1.25M167.5 661.88h1.25M151.25 663.12h1.25M153.75 663.12h1.25M158.75 663.12h1.25M161.25 663.12h1.25M167.5 663.12h1.25M180 663.12h1.25M147.5 664.38h1.25M173.75 664.38h1.25M177.5 664.38h1.25M151.25 665.62h1.25M155 665.62h1.25M157.5 665.62h1.25M162.5 665.62h2.5M166.25 665.62h2.5M178.75 665.62h1.25M156.25 666.88h1.25M172.5 666.88h1.25M176.25 666.88h1.25M186.25 666.88h1.25M142.5 668.12h1.25M145 668.12h1.25M168.75 668.12h2.5M185 668.12h1.25M187.5 668.12h1.25M143.75 669.38h1.25M172.5 669.38h1.25M183.75 669.38h1.25M186.25 669.38h1.25M142.5 670.62h1.25M166.25 670.62h1.25M170 670.62h2.5M190 670.62h1.25M178.75 671.88h1.25M175 673.12h2.5M178.75 673.12h1.25M181.25 673.12h1.25M185 673.12h1.25M190 673.12h1.25M173.75 674.38h2.5M135 675.62h1.25M141.25 675.62h1.25M178.75 676.88h2.5M178.75 678.12h1.25M135 679.38h1.25M138.75 679.38h1.25M175 679.38h1.25M138.75 680.62h1.25M172.5 680.62h1.25M180 680.62h1.25M188.75 680.62h1.25M137.5 681.88h1.25M138.75 683.12h1.25M133.75 684.38h1.25M182.5 684.38h2.5M186.25 684.38h1.25M188.75 684.38h1.25M131.25 685.62h1.25M178.75 685.62h2.5M180 686.88h1.25M136.25 688.12h1.25M173.75 688.12h2.5M177.5 688.12h1.25M180 688.12h1.25M182.5 688.12h2.5M172.5 689.38h1.25M176.25 689.38h1.25M135 690.62h2.5M136.25 691.88h2.5M172.5 691.88h1.25M175 691.88h1.25M178.75 691.88h1.25M128.75 693.12h1.25M135 693.12h1.25M138.75 693.12h2.5M170 693.12h1.25M173.75 693.12h1.25M178.75 693.12h1.25M185 693.12h1.25M138.75 694.38h2.5M170 694.38h1.25M173.75 694.38h1.25M177.5 694.38h1.25M127.5 695.62h1.25M131.25 695.62h1.25M138.75 695.62h2.5M168.75 695.62h2.5M172.5 695.62h1.25M175 695.62h2.5M178.75 695.62h2.5M131.25 696.88h1.25M133.75 696.88h1.25M137.5 696.88h1.25M140 696.88h2.5M130 698.12h1.25M137.5 698.12h1.25M140 698.12h1.25M171.25 698.12h1.25M132.5 699.38h2.5M137.5 699.38h2.5M142.5 699.38h1.25M131.25 700.62h1.25M178.75 700.62h1.25M128.75 701.88h1.25M132.5 701.88h1.25M137.5 701.88h2.5M168.75 701.88h1.25M172.5 701.88h2.5M177.5 701.88h1.25M133.75 703.12h2.5M171.25 703.12h1.25M173.75 703.12h1.25M176.25 703.12h1.25M138.75 704.38h2.5M168.75 704.38h2.5M171.25 705.62h2.5M132.5 706.88h1.25M135 706.88h1.25M137.5 706.88h2.5M167.5 706.88h1.25M170 706.88h1.25M130 708.12h1.25M141.25 708.12h1.25M166.25 708.12h1.25M168.75 708.12h2.5M128.75 709.38h2.5M137.5 709.38h1.25M141.25 709.38h1.25M143.75 709.38h1.25M160 709.38h2.5M165 709.38h2.5M136.25 710.62h1.25M138.75 710.62h2.5M143.75 710.62h1.25M162.5 710.62h1.25M172.5 710.62h1.25M128.75 711.88h1.25M133.75 711.88h1.25M136.25 711.88h1.25M156.25 711.88h2.5M160 711.88h1.25M163.75 711.88h1.25M166.25 711.88h2.5M136.25 713.12h2.5M140 713.12h2.5M145 713.12h1.25M150 713.12h1.25M153.75 713.12h2.5M162.5 713.12h1.25M127.5 714.38h1.25M138.75 714.38h2.5M142.5 714.38h1.25M145 714.38h1.25M148.75 714.38h2.5M153.75 714.38h2.5M167.5 714.38h1.25M125 715.62h1.25M136.25 715.62h1.25M138.75 715.62h1.25M141.25 715.62h2.5M146.25 715.62h1.25M150 715.62h2.5M153.75 715.62h1.25M166.25 715.62h1.25M143.75 716.88h1.25M157.5 716.88h1.25M160 716.88h2.5M165 716.88h2.5M128.75 718.12h1.25M133.75 718.12h1.25M150 718.12h1.25M152.5 718.12h1.25M131.25 719.38h2.5M135 719.38h1.25M137.5 719.38h1.25M148.75 719.38h2.5M161.25 719.38h2.5M165 719.38h2.5M170 719.38h1.25M140 720.62h1.25M162.5 720.62h1.25M165 720.62h1.25M130 721.88h2.5M166.25 721.88h1.25M158.75 723.12h1.25M127.5 724.38h1.25M131.25 724.38h1.25M133.75 724.38h2.5M137.5 724.38h1.25M147.5 724.38h1.25M150 724.38h1.25M152.5 724.38h1.25M155 724.38h1.25M161.25 724.38h2.5M165 724.38h1.25M162.5 725.62h2.5M166.25 725.62h1.25M136.25 726.88h1.25M160 726.88h1.25M128.75 728.12h1.25M131.25 728.12h1.25M133.75 728.12h2.5M137.5 728.12h2.5M142.5 728.12h1.25M166.25 728.12h1.25M132.5 729.38h1.25M146.25 729.38h1.25M151.25 729.38h1.25M155 729.38h2.5M160 729.38h2.5M165 729.38h2.5M132.5 730.62h1.25M138.75 730.62h2.5M148.75 730.62h1.25M138.75 731.88h1.25M153.75 731.88h1.25M147.5 733.12h1.25M150 733.12h1.25M155 733.12h2.5M161.25 733.12h1.25M128.75 734.38h1.25M135 734.38h1.25M138.75 734.38h2.5M145 734.38h2.5M148.75 734.38h1.25M151.25 734.38h1.25M153.75 734.38h1.25M156.25 734.38h2.5M162.5 734.38h1.25M131.25 735.62h1.25M137.5 735.62h1.25M140 735.62h1.25M143.75 735.62h1.25M152.5 735.62h1.25M161.25 735.62h1.25M145 736.88h1.25M147.5 736.88h1.25M157.5 736.88h2.5M132.5 738.12h1.25M136.25 738.12h1.25M141.25 738.12h1.25M160 738.12h1.25M165 738.12h1.25M136.25 739.38h2.5M140 739.38h2.5M157.5 739.38h1.25M131.25 740.62h1.25M136.25 740.62h1.25M140 740.62h2.5M146.25 740.62h2.5M153.75 740.62h1.25M158.75 740.62h1.25M150 741.88h1.25M153.75 741.88h1.25M130 743.12h1.25M135 743.12h1.25M141.25 743.12h1.25M150 743.12h1.25M143.75 744.38h1.25M135 745.62h1.25M140 745.62h2.5M150 745.62h1.25M158.75 745.62h1.25M133.75 746.88h1.25M138.75 746.88h1.25M142.5 746.88h1.25M146.25 746.88h1.25M155 746.88h2.5M138.75 748.12h1.25M141.25 748.12h1.25M143.75 748.12h1.25M150 748.12h1.25M137.5 749.38h1.25M148.75 749.38h1.25M152.5 749.38h1.25M161.25 749.38h1.25M135 750.62h1.25M137.5 750.62h1.25M140 750.62h1.25M155 750.62h1.25M157.5 750.62h1.25M136.25 751.88h1.25M142.5 751.88h1.25M147.5 751.88h1.25M152.5 751.88h1.25M135 753.12h1.25M147.5 753.12h1.25M151.25 753.12h1.25M153.75 753.12h2.5M148.75 754.38h1.25M151.25 754.38h2.5M158.75 754.38h1.25M135 755.62h1.25M162.5 755.62h1.25" stroke="#525252" stroke-width="1.25" fill="none"/>
<g stroke="#111" fill="none"><rect x="94.5" y="621.8" width="156.7" height="135.9" stroke-width="1.6"/><path d="M194.1 621.8V757.7M94.5 734.4H251.2" stroke-width="1.5"/></g>
<path d="M94.5 749.7h-3.0M94.5 743.6h-3.0M94.5 739.3h-3.0M94.5 735.9h-3.0M94.5 733.2h-3.0M94.5 730.9h-3.0M94.5 728.9h-3.0M94.5 727.1h-3.0M94.5 725.5h-4.8M94.5 715.1h-3.0M94.5 709.0h-3.0M94.5 704.7h-3.0M94.5 701.4h-3.0M94.5 698.6h-3.0M94.5 696.3h-3.0M94.5 694.3h-3.0M94.5 692.5h-3.0M94.5 691.0h-4.8M94.5 680.5h-3.0M94.5 674.5h-3.0M94.5 670.1h-3.0M94.5 666.8h-3.0M94.5 664.0h-3.0M94.5 661.7h-3.0M94.5 659.7h-3.0M94.5 658.0h-3.0M94.5 656.4h-4.8M94.5 646.0h-3.0M94.5 639.9h-3.0M94.5 635.6h-3.0M94.5 632.2h-3.0M94.5 629.5h-3.0M94.5 627.2h-3.0M94.5 625.2h-3.0M94.5 623.4h-3.0M94.5 621.8h-4.8" stroke="#111" stroke-width="1.5" fill="none"/>
<path d="M94.5 757.7v6.4M125.8 757.7v6.4M157.2 757.7v6.4M188.5 757.7v6.4M219.9 757.7v6.4M251.2 757.7v6.4M98.4 757.7v3.6M106.3 757.7v3.6M114.1 757.7v3.6M121.9 757.7v3.6M129.8 757.7v3.6M137.6 757.7v3.6M145.4 757.7v3.6M153.3 757.7v3.6M161.1 757.7v3.6M168.9 757.7v3.6M176.8 757.7v3.6M184.6 757.7v3.6M192.4 757.7v3.6M200.3 757.7v3.6M208.1 757.7v3.6M215.9 757.7v3.6M223.8 757.7v3.6M231.6 757.7v3.6M239.4 757.7v3.6M247.3 757.7v3.6" stroke="#111" stroke-width="1.5" fill="none"/>
<text x="67.7" y="763.7" font-size="12" stroke="#0a0a0a" stroke-width="0.3">10<tspan dy="-3.4" font-size="8">0</tspan></text>
<text x="67.7" y="731.1" font-size="12" stroke="#0a0a0a" stroke-width="0.3">10<tspan dy="-3.4" font-size="8">1</tspan></text>
<text x="67.7" y="696.1" font-size="12" stroke="#0a0a0a" stroke-width="0.3">10<tspan dy="-3.4" font-size="8">2</tspan></text>
<text x="67.7" y="661.2" font-size="12" stroke="#0a0a0a" stroke-width="0.3">10<tspan dy="-3.4" font-size="8">3</tspan></text>
<text x="67.7" y="626.2" font-size="12" stroke="#0a0a0a" stroke-width="0.3">10<tspan dy="-3.4" font-size="8">4</tspan></text>
<text x="94.7" y="775.3" font-size="14.5" text-anchor="middle" letter-spacing="-0.3" stroke="#0a0a0a" stroke-width="0.25">0</text>
<text x="122.6" y="775.3" font-size="14.5" text-anchor="middle" letter-spacing="-0.3" stroke="#0a0a0a" stroke-width="0.25">200</text>
<text x="153.1" y="775.3" font-size="14.5" text-anchor="middle" letter-spacing="-0.3" stroke="#0a0a0a" stroke-width="0.25">400</text>
<text x="185.2" y="775.3" font-size="14.5" text-anchor="middle" letter-spacing="-0.3" stroke="#0a0a0a" stroke-width="0.25">600</text>
<text x="217.4" y="775.3" font-size="14.5" text-anchor="middle" letter-spacing="-0.3" stroke="#0a0a0a" stroke-width="0.25">800</text>
<text x="247.9" y="775.3" font-size="14.5" text-anchor="middle" letter-spacing="-0.9" stroke="#0a0a0a" stroke-width="0.25">1000</text>
<text transform="translate(147.7 643.5) scale(1.100 1)" font-size="18" font-weight="bold" font-style="italic">98<tspan font-style="italic">%</tspan></text>
</g>
<g id="R1">
<path d="M431.25 144.38h3.75M455 151.88h3.75M450 163.12h3.75M436.25 164.38h6.25M446.25 164.38h3.75M455 164.38h5M433.75 165.62h8.75M448.75 165.62h3.75M462.5 165.62h7.5M423.75 166.88h5M432.5 166.88h10M443.75 166.88h5M458.75 166.88h11.25M416.25 168.12h13.75M431.25 168.12h3.75M437.5 168.12h15M453.75 168.12h3.75M465 168.12h3.75M413.75 169.38h16.25M431.25 169.38h5M438.75 169.38h17.5M463.75 169.38h3.75M416.25 170.62h6.25M423.75 170.62h8.75M433.75 170.62h6.25M441.25 170.62h15M457.5 170.62h3.75M417.5 171.88h6.25M425 171.88h18.75M447.5 171.88h3.75M415 173.12h6.25M422.5 173.12h5M428.75 173.12h13.75M443.75 173.12h5M416.25 174.38h5M422.5 174.38h16.25M440 174.38h3.75M422.5 175.62h7.5M431.25 175.62h3.75M410 176.88h21.25M420 178.12h3.75M425 178.12h3.75M433.75 178.12h3.75M412.5 179.38h6.25M420 179.38h10" stroke="#666666" stroke-width="1.25" fill="none"/>
<path d="M410 114.38h1.25M450 131.88h1.25M427.5 133.12h1.25M433.75 133.12h1.25M448.75 133.12h1.25M456.25 133.12h1.25M426.25 134.38h1.25M428.75 134.38h1.25M443.75 134.38h1.25M447.5 134.38h1.25M452.5 134.38h1.25M455 134.38h1.25M455 135.62h2.5M446.25 136.88h1.25M450 136.88h1.25M453.75 136.88h1.25M437.5 138.12h1.25M407.5 139.38h1.25M430 139.38h1.25M418.75 140.62h1.25M423.75 140.62h1.25M447.5 140.62h1.25M453.75 140.62h1.25M407.5 141.88h1.25M405 143.12h1.25M412.5 143.12h1.25M418.75 143.12h2.5M426.25 143.12h1.25M412.5 144.38h1.25M420 144.38h1.25M440 144.38h1.25M447.5 144.38h1.25M452.5 144.38h1.25M417.5 145.62h1.25M453.75 145.62h1.25M421.25 146.88h1.25M426.25 146.88h1.25M428.75 146.88h1.25M446.25 146.88h1.25M451.25 146.88h1.25M456.25 146.88h1.25M403.75 148.12h1.25M417.5 148.12h1.25M431.25 148.12h2.5M435 148.12h1.25M453.75 148.12h1.25M406.25 149.38h1.25M432.5 149.38h1.25M445 149.38h1.25M455 149.38h1.25M415 150.62h2.5M443.75 150.62h1.25M402.5 151.88h1.25M433.75 151.88h1.25M436.25 151.88h1.25M442.5 151.88h1.25M450 151.88h1.25M406.25 153.12h1.25M415 153.12h1.25M421.25 153.12h2.5M432.5 153.12h1.25M446.25 153.12h1.25M448.75 153.12h1.25M452.5 153.12h1.25M461.25 153.12h1.25M408.75 154.38h1.25M417.5 154.38h1.25M428.75 154.38h2.5M438.75 154.38h2.5M442.5 154.38h2.5M448.75 154.38h1.25M456.25 154.38h1.25M461.25 154.38h1.25M466.25 154.38h1.25M417.5 155.62h1.25M422.5 155.62h1.25M425 155.62h2.5M430 155.62h2.5M438.75 155.62h1.25M462.5 155.62h1.25M418.75 156.88h1.25M423.75 156.88h1.25M431.25 156.88h1.25M438.75 156.88h1.25M452.5 156.88h1.25M455 156.88h1.25M458.75 156.88h1.25M465 156.88h1.25M426.25 158.12h2.5M432.5 158.12h1.25M435 158.12h1.25M440 158.12h1.25M442.5 158.12h1.25M445 158.12h1.25M450 158.12h1.25M460 158.12h1.25M426.25 159.38h1.25M432.5 159.38h1.25M438.75 160.62h2.5M445 160.62h2.5M448.75 160.62h1.25M458.75 160.62h1.25M468.75 160.62h2.5M426.25 161.88h1.25M433.75 161.88h1.25M450 161.88h1.25M455 161.88h1.25M460 161.88h1.25M462.5 161.88h1.25M415 163.12h1.25M420 163.12h1.25M422.5 163.12h1.25M428.75 163.12h1.25M436.25 163.12h1.25M440 163.12h1.25M455 163.12h2.5M460 163.12h1.25M466.25 163.12h2.5M471.25 163.12h1.25M413.75 164.38h1.25M418.75 164.38h1.25M423.75 164.38h1.25M430 164.38h1.25M432.5 164.38h1.25M466.25 164.38h2.5M470 164.38h2.5M473.75 164.38h1.25M415 165.62h1.25M418.75 165.62h1.25M423.75 165.62h1.25M426.25 165.62h1.25M428.75 165.62h1.25M443.75 165.62h1.25M453.75 165.62h2.5M457.5 165.62h2.5M471.25 165.62h1.25M410 166.88h1.25M413.75 166.88h1.25M417.5 166.88h2.5M430 166.88h1.25M451.25 166.88h1.25M455 166.88h2.5M471.25 166.88h1.25M412.5 168.12h2.5M461.25 169.38h1.25M412.5 170.62h1.25M405 171.88h1.25M445 171.88h1.25M455 171.88h2.5M458.75 171.88h1.25M406.25 173.12h1.25M408.75 173.12h1.25M412.5 173.12h1.25M451.25 173.12h1.25M453.75 173.12h1.25M410 174.38h1.25M412.5 174.38h2.5M447.5 174.38h1.25M407.5 175.62h1.25M416.25 175.62h1.25M418.75 175.62h2.5M436.25 175.62h1.25M440 175.62h2.5M446.25 175.62h1.25M448.75 175.62h1.25M452.5 175.62h1.25M432.5 176.88h1.25M435 176.88h1.25M437.5 176.88h1.25M440 176.88h1.25M442.5 176.88h1.25M445 176.88h1.25M401.25 178.12h1.25M405 178.12h1.25M410 178.12h1.25M412.5 178.12h2.5M416.25 178.12h2.5M436.25 179.38h1.25M410 180.62h1.25M412.5 180.62h1.25M415 180.62h2.5M421.25 180.62h2.5M428.75 180.62h1.25M397.5 181.88h2.5M401.25 181.88h1.25M405 181.88h1.25M408.75 181.88h2.5M412.5 181.88h2.5M418.75 181.88h1.25M423.75 181.88h1.25M398.75 183.12h1.25M403.75 183.12h1.25M406.25 183.12h2.5M416.25 183.12h1.25M403.75 184.38h1.25M415 184.38h1.25M421.25 184.38h1.25M397.5 185.62h1.25M401.25 185.62h1.25M405 185.62h1.25M417.5 185.62h1.25M405 186.88h1.25" stroke="#525252" stroke-width="1.25" fill="none"/>
<g stroke="#111" fill="none"><rect x="352.1" y="65.1" width="157.6" height="135.6" stroke-width="1.6"/><path d="M478.5 65.1V200.7M352.1 161.5H509.7" stroke-width="1.5"/></g>
<path d="M352.1 192.7h-3.0M352.1 186.6h-3.0M352.1 182.3h-3.0M352.1 179.0h-3.0M352.1 176.3h-3.0M352.1 173.9h-3.0M352.1 171.9h-3.0M352.1 170.2h-3.0M352.1 168.6h-4.8M352.1 158.2h-3.0M352.1 152.1h-3.0M352.1 147.8h-3.0M352.1 144.5h-3.0M352.1 141.8h-3.0M352.1 139.4h-3.0M352.1 137.4h-3.0M352.1 135.7h-3.0M352.1 134.1h-4.8M352.1 123.7h-3.0M352.1 117.6h-3.0M352.1 113.3h-3.0M352.1 110.0h-3.0M352.1 107.3h-3.0M352.1 104.9h-3.0M352.1 102.9h-3.0M352.1 101.2h-3.0M352.1 99.6h-4.8M352.1 89.2h-3.0M352.1 83.1h-3.0M352.1 78.8h-3.0M352.1 75.5h-3.0M352.1 72.8h-3.0M352.1 70.4h-3.0M352.1 68.4h-3.0M352.1 66.7h-3.0M352.1 65.1h-4.8" stroke="#111" stroke-width="1.5" fill="none"/>
<path d="M352.1 200.7v6.4M383.6 200.7v6.4M415.1 200.7v6.4M446.7 200.7v6.4M478.2 200.7v6.4M509.7 200.7v6.4M356.0 200.7v3.6M363.9 200.7v3.6M371.8 200.7v3.6M379.7 200.7v3.6M387.6 200.7v3.6M395.4 200.7v3.6M403.3 200.7v3.6M411.2 200.7v3.6M419.1 200.7v3.6M427.0 200.7v3.6M434.8 200.7v3.6M442.7 200.7v3.6M450.6 200.7v3.6M458.5 200.7v3.6M466.4 200.7v3.6M474.2 200.7v3.6M482.1 200.7v3.6M490.0 200.7v3.6M497.9 200.7v3.6M505.8 200.7v3.6" stroke="#111" stroke-width="1.5" fill="none"/>
<text x="325.3" y="206.7" font-size="12" stroke="#0a0a0a" stroke-width="0.3">10<tspan dy="-3.4" font-size="8">0</tspan></text>
<text x="325.3" y="174.2" font-size="12" stroke="#0a0a0a" stroke-width="0.3">10<tspan dy="-3.4" font-size="8">1</tspan></text>
<text x="325.3" y="139.3" font-size="12" stroke="#0a0a0a" stroke-width="0.3">10<tspan dy="-3.4" font-size="8">2</tspan></text>
<text x="325.3" y="104.4" font-size="12" stroke="#0a0a0a" stroke-width="0.3">10<tspan dy="-3.4" font-size="8">3</tspan></text>
<text x="325.3" y="69.5" font-size="12" stroke="#0a0a0a" stroke-width="0.3">10<tspan dy="-3.4" font-size="8">4</tspan></text>
<text x="352.2" y="219.0" font-size="14.5" text-anchor="middle" letter-spacing="-0.3" stroke="#0a0a0a" stroke-width="0.25">0</text>
<text x="380.4" y="219.0" font-size="14.5" text-anchor="middle" letter-spacing="-0.3" stroke="#0a0a0a" stroke-width="0.25">200</text>
<text x="411.1" y="219.0" font-size="14.5" text-anchor="middle" letter-spacing="-0.3" stroke="#0a0a0a" stroke-width="0.25">400</text>
<text x="443.3" y="219.0" font-size="14.5" text-anchor="middle" letter-spacing="-0.3" stroke="#0a0a0a" stroke-width="0.25">600</text>
<text x="475.7" y="219.0" font-size="14.5" text-anchor="middle" letter-spacing="-0.3" stroke="#0a0a0a" stroke-width="0.25">800</text>
<text x="506.4" y="219.0" font-size="14.5" text-anchor="middle" letter-spacing="-0.9" stroke="#0a0a0a" stroke-width="0.25">1000</text>
<text transform="translate(416.0 93.4) scale(1.116 1)" font-size="18" font-weight="bold">19<tspan font-style="italic">%</tspan></text>
</g>
<g id="R2">
<path d="M392.5 325.62h6.25M387.5 326.88h3.75M410 326.88h3.75M391.25 329.38h3.75M401.25 329.38h3.75M396.25 333.12h3.75M408.75 333.12h3.75M392.5 334.38h7.5M406.25 334.38h6.25M401.25 335.62h13.75M395 336.88h3.75M400 336.88h8.75M387.5 338.12h5M403.75 338.12h5M410 338.12h5M395 339.38h5M412.5 339.38h5M412.5 340.62h5M397.5 341.88h5M411.25 341.88h3.75M416.25 341.88h10M431.25 341.88h3.75M416.25 343.12h10M416.25 344.38h6.25M387.5 345.62h6.25M412.5 345.62h5M418.75 345.62h7.5M427.5 345.62h3.75M403.75 346.88h5M412.5 346.88h3.75M417.5 346.88h8.75M386.25 348.12h5M410 348.12h16.25M411.25 349.38h20M400 350.62h7.5M411.25 350.62h16.25M410 351.88h20M408.75 353.12h20M395 354.38h3.75M402.5 354.38h6.25M411.25 354.38h18.75M431.25 354.38h3.75M398.75 355.62h3.75M410 355.62h18.75M430 355.62h5M388.75 356.88h3.75M401.25 356.88h5M407.5 356.88h25M391.25 358.12h3.75M403.75 358.12h32.5M388.75 359.38h6.25M398.75 359.38h30M432.5 359.38h5M388.75 360.62h3.75M395 360.62h33.75M432.5 360.62h3.75M390 361.88h5M400 361.88h28.75M387.5 363.12h6.25M395 363.12h35M386.25 364.38h5M400 364.38h27.5M385 365.62h7.5M398.75 365.62h25M427.5 365.62h3.75M432.5 365.62h3.75M387.5 366.88h5M393.75 366.88h31.25M387.5 368.12h6.25M400 368.12h28.75M385 369.38h8.75M396.25 369.38h32.5M385 370.62h7.5M395 370.62h32.5M390 371.88h38.75M385 373.12h6.25M400 373.12h30M387.5 374.38h6.25M400 374.38h27.5M387.5 375.62h5M393.75 375.62h33.75M390 376.88h36.25M393.75 378.12h5M400 378.12h23.75M391.25 379.38h31.25" stroke="#666666" stroke-width="1.25" fill="none"/>
<path d="M397.5 310.62h1.25M425 319.38h1.25M410 320.62h1.25M421.25 320.62h2.5M400 321.88h1.25M405 321.88h1.25M407.5 321.88h2.5M396.25 323.12h1.25M398.75 323.12h1.25M403.75 323.12h1.25M408.75 323.12h1.25M411.25 323.12h1.25M422.5 323.12h1.25M432.5 323.12h1.25M435 323.12h1.25M392.5 324.38h2.5M397.5 324.38h1.25M405 324.38h1.25M407.5 324.38h2.5M422.5 324.38h1.25M425 324.38h1.25M432.5 324.38h1.25M442.5 324.38h1.25M400 325.62h2.5M406.25 325.62h1.25M411.25 325.62h1.25M421.25 325.62h1.25M436.25 325.62h1.25M392.5 326.88h2.5M396.25 326.88h2.5M401.25 326.88h1.25M403.75 326.88h2.5M407.5 326.88h1.25M418.75 326.88h1.25M433.75 326.88h1.25M437.5 326.88h1.25M391.25 328.12h1.25M400 328.12h2.5M403.75 328.12h2.5M410 328.12h2.5M422.5 328.12h1.25M441.25 328.12h1.25M388.75 329.38h1.25M397.5 329.38h2.5M406.25 329.38h1.25M413.75 329.38h1.25M430 329.38h1.25M391.25 330.62h2.5M396.25 330.62h1.25M398.75 330.62h1.25M401.25 330.62h2.5M410 330.62h1.25M413.75 330.62h1.25M416.25 330.62h1.25M420 330.62h1.25M437.5 330.62h1.25M391.25 331.88h2.5M395 331.88h1.25M398.75 331.88h2.5M402.5 331.88h2.5M411.25 331.88h1.25M413.75 331.88h1.25M416.25 331.88h1.25M441.25 331.88h1.25M387.5 333.12h2.5M393.75 333.12h1.25M413.75 333.12h1.25M431.25 333.12h1.25M435 333.12h1.25M440 333.12h2.5M402.5 334.38h1.25M413.75 334.38h2.5M438.75 334.38h1.25M442.5 334.38h1.25M390 335.62h1.25M395 335.62h2.5M441.25 335.62h2.5M387.5 336.88h1.25M390 336.88h1.25M392.5 336.88h1.25M410 336.88h1.25M412.5 336.88h1.25M427.5 336.88h1.25M433.75 336.88h1.25M393.75 338.12h2.5M397.5 338.12h2.5M420 338.12h1.25M385 339.38h1.25M391.25 339.38h2.5M407.5 339.38h1.25M418.75 339.38h1.25M432.5 339.38h1.25M436.25 339.38h1.25M445 339.38h1.25M383.75 340.62h1.25M390 340.62h1.25M393.75 340.62h1.25M396.25 340.62h1.25M400 340.62h2.5M421.25 340.62h1.25M425 340.62h1.25M386.25 341.88h1.25M388.75 341.88h1.25M391.25 341.88h2.5M395 341.88h1.25M427.5 341.88h2.5M446.25 341.88h1.25M392.5 343.12h2.5M396.25 343.12h1.25M401.25 343.12h1.25M405 343.12h1.25M407.5 343.12h1.25M428.75 343.12h1.25M431.25 343.12h2.5M388.75 344.38h2.5M392.5 344.38h2.5M396.25 344.38h1.25M402.5 344.38h2.5M406.25 344.38h1.25M408.75 344.38h1.25M412.5 344.38h1.25M423.75 344.38h2.5M427.5 344.38h1.25M430 344.38h2.5M438.75 344.38h1.25M442.5 344.38h1.25M396.25 345.62h1.25M398.75 345.62h1.25M401.25 345.62h1.25M403.75 345.62h1.25M406.25 345.62h2.5M410 345.62h1.25M388.75 346.88h1.25M391.25 346.88h1.25M396.25 346.88h2.5M401.25 346.88h1.25M427.5 346.88h2.5M431.25 346.88h1.25M392.5 348.12h2.5M396.25 348.12h1.25M402.5 348.12h2.5M427.5 348.12h1.25M387.5 349.38h1.25M390 349.38h1.25M393.75 349.38h1.25M397.5 349.38h1.25M401.25 349.38h2.5M435 349.38h1.25M437.5 349.38h2.5M388.75 350.62h1.25M393.75 350.62h2.5M408.75 350.62h1.25M430 350.62h1.25M433.75 350.62h1.25M438.75 350.62h1.25M390 351.88h1.25M392.5 351.88h2.5M396.25 351.88h1.25M401.25 351.88h2.5M407.5 351.88h1.25M431.25 351.88h1.25M440 351.88h1.25M442.5 351.88h1.25M395 353.12h1.25M400 353.12h1.25M403.75 353.12h1.25M406.25 353.12h1.25M430 353.12h1.25M432.5 353.12h2.5M436.25 353.12h1.25M441.25 353.12h1.25M390 354.38h1.25M436.25 354.38h1.25M445 354.38h1.25M386.25 355.62h1.25M392.5 355.62h1.25M403.75 355.62h1.25M406.25 355.62h2.5M437.5 355.62h1.25M396.25 356.88h1.25M433.75 356.88h1.25M382.5 358.12h1.25M396.25 358.12h1.25M400 358.12h2.5M438.75 358.12h1.25M441.25 358.12h1.25M383.75 359.38h1.25M396.25 359.38h1.25M430 359.38h1.25M441.25 359.38h1.25M383.75 360.62h1.25M437.5 360.62h1.25M383.75 361.88h1.25M386.25 361.88h1.25M397.5 361.88h1.25M430 361.88h1.25M432.5 361.88h1.25M438.75 361.88h1.25M382.5 363.12h1.25M382.5 364.38h2.5M393.75 364.38h1.25M396.25 364.38h1.25M435 364.38h1.25M441.25 364.38h1.25M425 365.62h1.25M440 365.62h1.25M426.25 366.88h1.25M428.75 366.88h1.25M437.5 366.88h1.25M396.25 368.12h2.5M430 368.12h1.25M432.5 368.12h2.5M432.5 369.38h2.5M436.25 369.38h1.25M431.25 370.62h1.25M433.75 370.62h2.5M441.25 370.62h1.25M385 371.88h1.25M432.5 371.88h1.25M436.25 371.88h1.25M392.5 373.12h2.5M396.25 373.12h2.5M431.25 373.12h1.25M433.75 373.12h2.5M385 374.38h1.25M395 374.38h1.25M397.5 374.38h1.25M430 374.38h2.5M433.75 374.38h2.5M428.75 375.62h1.25M432.5 375.62h1.25M386.25 378.12h1.25M391.25 378.12h1.25M425 378.12h1.25M427.5 378.12h1.25M430 378.12h1.25M426.25 379.38h1.25" stroke="#525252" stroke-width="1.25" fill="none"/>
<g stroke="#111" fill="none"><rect x="351.5" y="246.7" width="157.7" height="134.6" stroke-width="1.6"/><path d="M451.1 246.7V381.3M351.5 357.6H509.2" stroke-width="1.5"/></g>
<path d="M351.5 373.4h-3.0M351.5 367.4h-3.0M351.5 363.1h-3.0M351.5 359.8h-3.0M351.5 357.0h-3.0M351.5 354.8h-3.0M351.5 352.8h-3.0M351.5 351.0h-3.0M351.5 349.5h-4.8M351.5 339.1h-3.0M351.5 333.1h-3.0M351.5 328.8h-3.0M351.5 325.5h-3.0M351.5 322.8h-3.0M351.5 320.5h-3.0M351.5 318.5h-3.0M351.5 316.8h-3.0M351.5 315.2h-4.8M351.5 304.9h-3.0M351.5 298.9h-3.0M351.5 294.6h-3.0M351.5 291.3h-3.0M351.5 288.5h-3.0M351.5 286.3h-3.0M351.5 284.3h-3.0M351.5 282.5h-3.0M351.5 280.9h-4.8M351.5 270.6h-3.0M351.5 264.6h-3.0M351.5 260.3h-3.0M351.5 257.0h-3.0M351.5 254.3h-3.0M351.5 252.0h-3.0M351.5 250.0h-3.0M351.5 248.3h-3.0M351.5 246.7h-4.8" stroke="#111" stroke-width="1.5" fill="none"/>
<path d="M351.5 381.3v6.4M383.0 381.3v6.4M414.6 381.3v6.4M446.1 381.3v6.4M477.7 381.3v6.4M509.2 381.3v6.4M355.4 381.3v3.6M363.3 381.3v3.6M371.2 381.3v3.6M379.1 381.3v3.6M387.0 381.3v3.6M394.9 381.3v3.6M402.8 381.3v3.6M410.6 381.3v3.6M418.5 381.3v3.6M426.4 381.3v3.6M434.3 381.3v3.6M442.2 381.3v3.6M450.1 381.3v3.6M457.9 381.3v3.6M465.8 381.3v3.6M473.7 381.3v3.6M481.6 381.3v3.6M489.5 381.3v3.6M497.4 381.3v3.6M505.3 381.3v3.6" stroke="#111" stroke-width="1.5" fill="none"/>
<text x="324.7" y="387.3" font-size="12" stroke="#0a0a0a" stroke-width="0.3">10<tspan dy="-3.4" font-size="8">0</tspan></text>
<text x="324.7" y="355.1" font-size="12" stroke="#0a0a0a" stroke-width="0.3">10<tspan dy="-3.4" font-size="8">1</tspan></text>
<text x="324.7" y="320.4" font-size="12" stroke="#0a0a0a" stroke-width="0.3">10<tspan dy="-3.4" font-size="8">2</tspan></text>
<text x="324.7" y="285.7" font-size="12" stroke="#0a0a0a" stroke-width="0.3">10<tspan dy="-3.4" font-size="8">3</tspan></text>
<text x="324.7" y="251.1" font-size="12" stroke="#0a0a0a" stroke-width="0.3">10<tspan dy="-3.4" font-size="8">4</tspan></text>
<text x="351.6" y="399.5" font-size="14.5" text-anchor="middle" letter-spacing="-0.3" stroke="#0a0a0a" stroke-width="0.25">0</text>
<text x="379.8" y="399.5" font-size="14.5" text-anchor="middle" letter-spacing="-0.3" stroke="#0a0a0a" stroke-width="0.25">200</text>
<text x="410.5" y="399.5" font-size="14.5" text-anchor="middle" letter-spacing="-0.3" stroke="#0a0a0a" stroke-width="0.25">400</text>
<text x="442.8" y="399.5" font-size="14.5" text-anchor="middle" letter-spacing="-0.3" stroke="#0a0a0a" stroke-width="0.25">600</text>
<text x="475.2" y="399.5" font-size="14.5" text-anchor="middle" letter-spacing="-0.3" stroke="#0a0a0a" stroke-width="0.25">800</text>
<text x="505.9" y="399.5" font-size="14.5" text-anchor="middle" letter-spacing="-0.9" stroke="#0a0a0a" stroke-width="0.25">1000</text>
<text transform="translate(410.2 266.2) scale(1.119 1)" font-size="18" font-weight="bold">23<tspan font-style="italic">%</tspan></text>
</g>
<g id="R3">
<path d="M462.5 506.88h3.75M446.25 510.62h5M423.75 513.12h3.75M452.5 514.38h3.75M441.25 516.88h3.75M462.5 516.88h3.75M445 518.12h5M465 518.12h5M432.5 519.38h3.75M455 519.38h6.25M466.25 519.38h3.75M445 520.62h5M432.5 521.88h3.75M437.5 521.88h5M447.5 521.88h3.75M420 523.12h6.25M431.25 523.12h5M455 523.12h3.75M473.75 523.12h5M422.5 524.38h3.75M427.5 524.38h6.25M463.75 524.38h5M473.75 524.38h3.75M420 525.62h3.75M426.25 525.62h5M442.5 525.62h7.5M451.25 525.62h6.25M425 526.88h5M431.25 526.88h3.75M450 526.88h6.25M458.75 526.88h6.25M467.5 526.88h3.75M412.5 528.12h3.75M417.5 528.12h22.5M441.25 528.12h15M458.75 528.12h6.25M468.75 528.12h10M416.25 529.38h12.5M430 529.38h8.75M440 529.38h41.25M417.5 530.62h5M425 530.62h48.75M475 530.62h6.25M413.75 531.88h37.5M452.5 531.88h30M413.75 533.12h12.5M428.75 533.12h52.5M412.5 534.38h15M428.75 534.38h53.75M412.5 535.62h15M432.5 535.62h7.5M441.25 535.62h41.25M410 536.88h15M426.25 536.88h28.75M456.25 536.88h18.75M412.5 538.12h56.25M407.5 539.38h11.25M420 539.38h20M441.25 539.38h26.25M408.75 540.62h48.75M461.25 540.62h6.25M407.5 541.88h47.5M405 543.12h35M441.25 543.12h11.25M402.5 544.38h40M405 545.62h31.25M437.5 545.62h3.75M402.5 546.88h31.25M436.25 546.88h8.75M396.25 548.12h36.25M397.5 549.38h28.75M393.75 550.62h36.25M397.5 551.88h16.25M415 551.88h8.75M392.5 553.12h22.5M392.5 554.38h16.25M396.25 555.62h13.75M395 556.88h8.75M400 558.12h5M406.25 558.12h3.75" stroke="#666666" stroke-width="1.25" fill="none"/>
<path d="M431.25 484.38h1.25M456.25 485.62h1.25M405 488.12h1.25M417.5 488.12h1.25M458.75 488.12h1.25M406.25 489.38h1.25M408.75 489.38h2.5M443.75 490.62h1.25M393.75 491.88h1.25M443.75 491.88h1.25M466.25 491.88h1.25M472.5 491.88h1.25M403.75 493.12h1.25M428.75 493.12h1.25M445 494.38h1.25M467.5 494.38h1.25M415 495.62h1.25M421.25 495.62h1.25M446.25 495.62h1.25M465 495.62h1.25M472.5 495.62h1.25M426.25 496.88h1.25M430 496.88h1.25M458.75 496.88h1.25M395 498.12h1.25M418.75 498.12h1.25M428.75 498.12h2.5M467.5 498.12h1.25M473.75 498.12h1.25M456.25 499.38h1.25M463.75 499.38h1.25M470 499.38h1.25M403.75 500.62h1.25M406.25 500.62h1.25M417.5 500.62h1.25M433.75 500.62h2.5M440 500.62h2.5M445 500.62h1.25M471.25 500.62h1.25M425 501.88h1.25M438.75 501.88h1.25M442.5 501.88h1.25M450 501.88h1.25M471.25 501.88h1.25M408.75 503.12h1.25M421.25 503.12h1.25M426.25 503.12h1.25M408.75 504.38h1.25M411.25 504.38h2.5M447.5 504.38h1.25M456.25 504.38h1.25M460 504.38h1.25M430 505.62h1.25M446.25 505.62h1.25M456.25 505.62h1.25M468.75 505.62h1.25M397.5 506.88h1.25M407.5 506.88h1.25M412.5 506.88h1.25M417.5 506.88h1.25M423.75 506.88h2.5M431.25 506.88h1.25M458.75 506.88h1.25M471.25 506.88h1.25M408.75 508.12h1.25M421.25 508.12h1.25M423.75 508.12h1.25M428.75 508.12h1.25M432.5 508.12h2.5M441.25 508.12h1.25M447.5 508.12h1.25M475 508.12h1.25M480 508.12h1.25M418.75 509.38h1.25M425 509.38h1.25M428.75 509.38h2.5M435 509.38h1.25M437.5 509.38h1.25M447.5 509.38h1.25M452.5 509.38h1.25M457.5 509.38h1.25M472.5 509.38h1.25M405 510.62h1.25M407.5 510.62h2.5M426.25 510.62h1.25M432.5 510.62h1.25M437.5 510.62h1.25M462.5 510.62h1.25M471.25 510.62h2.5M416.25 511.88h1.25M421.25 511.88h1.25M423.75 511.88h2.5M436.25 511.88h1.25M451.25 511.88h2.5M457.5 511.88h1.25M461.25 511.88h2.5M467.5 511.88h1.25M473.75 511.88h1.25M407.5 513.12h1.25M413.75 513.12h1.25M430 513.12h1.25M432.5 513.12h1.25M465 513.12h1.25M473.75 513.12h1.25M438.75 514.38h1.25M445 514.38h1.25M447.5 514.38h1.25M457.5 514.38h1.25M463.75 514.38h1.25M470 514.38h1.25M476.25 514.38h1.25M403.75 515.62h1.25M407.5 515.62h1.25M416.25 515.62h1.25M423.75 515.62h2.5M431.25 515.62h1.25M435 515.62h1.25M446.25 515.62h1.25M452.5 515.62h1.25M457.5 515.62h1.25M460 515.62h1.25M465 515.62h1.25M468.75 515.62h1.25M400 516.88h1.25M418.75 516.88h2.5M422.5 516.88h2.5M432.5 516.88h2.5M448.75 516.88h2.5M458.75 516.88h1.25M480 516.88h1.25M412.5 518.12h1.25M420 518.12h1.25M422.5 518.12h1.25M432.5 518.12h1.25M435 518.12h1.25M438.75 518.12h2.5M453.75 518.12h1.25M458.75 518.12h1.25M461.25 518.12h2.5M408.75 519.38h1.25M412.5 519.38h1.25M416.25 519.38h1.25M421.25 519.38h1.25M425 519.38h2.5M430 519.38h1.25M438.75 519.38h1.25M443.75 519.38h1.25M446.25 519.38h1.25M448.75 519.38h1.25M462.5 519.38h2.5M473.75 519.38h1.25M476.25 519.38h2.5M402.5 520.62h1.25M408.75 520.62h1.25M412.5 520.62h1.25M417.5 520.62h1.25M425 520.62h2.5M428.75 520.62h1.25M431.25 520.62h1.25M435 520.62h1.25M437.5 520.62h2.5M442.5 520.62h1.25M457.5 520.62h1.25M465 520.62h1.25M480 520.62h1.25M398.75 521.88h1.25M410 521.88h2.5M417.5 521.88h2.5M421.25 521.88h1.25M425 521.88h1.25M428.75 521.88h1.25M456.25 521.88h1.25M467.5 521.88h1.25M476.25 521.88h2.5M481.25 521.88h1.25M417.5 523.12h1.25M427.5 523.12h2.5M438.75 523.12h2.5M442.5 523.12h2.5M447.5 523.12h2.5M451.25 523.12h1.25M462.5 523.12h1.25M465 523.12h2.5M468.75 523.12h1.25M401.25 524.38h1.25M416.25 524.38h1.25M418.75 524.38h2.5M436.25 524.38h2.5M442.5 524.38h1.25M446.25 524.38h1.25M448.75 524.38h1.25M451.25 524.38h1.25M455 524.38h1.25M457.5 524.38h2.5M408.75 525.62h1.25M415 525.62h2.5M432.5 525.62h2.5M438.75 525.62h1.25M458.75 525.62h2.5M462.5 525.62h1.25M465 525.62h2.5M468.75 525.62h2.5M473.75 525.62h1.25M481.25 525.62h1.25M405 526.88h1.25M412.5 526.88h1.25M418.75 526.88h2.5M437.5 526.88h1.25M440 526.88h2.5M445 526.88h1.25M472.5 526.88h2.5M466.25 528.12h1.25M481.25 528.12h1.25M407.5 529.38h1.25M413.75 529.38h1.25M482.5 529.38h1.25M407.5 530.62h1.25M407.5 531.88h1.25M406.25 533.12h1.25M406.25 534.38h2.5M407.5 535.62h1.25M428.75 535.62h2.5M402.5 536.88h2.5M478.75 536.88h1.25M481.25 536.88h1.25M401.25 538.12h1.25M406.25 538.12h1.25M408.75 538.12h2.5M470 538.12h1.25M473.75 538.12h1.25M480 538.12h1.25M400 539.38h1.25M403.75 539.38h1.25M468.75 539.38h1.25M402.5 540.62h2.5M458.75 540.62h1.25M468.75 540.62h1.25M400 541.88h2.5M403.75 541.88h1.25M456.25 541.88h2.5M460 541.88h2.5M466.25 541.88h1.25M397.5 543.12h2.5M453.75 543.12h1.25M460 543.12h1.25M400 544.38h1.25M445 544.38h1.25M447.5 544.38h2.5M453.75 544.38h1.25M456.25 544.38h1.25M460 544.38h1.25M397.5 545.62h1.25M402.5 545.62h1.25M443.75 545.62h2.5M447.5 545.62h1.25M453.75 545.62h1.25M456.25 545.62h1.25M461.25 545.62h1.25M397.5 546.88h1.25M400 546.88h1.25M430 549.38h1.25M436.25 549.38h1.25M440 549.38h1.25M437.5 550.62h1.25M393.75 551.88h1.25M425 551.88h1.25M433.75 551.88h1.25M416.25 553.12h1.25M410 554.38h2.5M413.75 554.38h1.25M392.5 555.62h1.25M415 555.62h1.25M406.25 556.88h1.25M411.25 556.88h1.25M420 556.88h1.25M422.5 556.88h1.25M412.5 558.12h1.25M391.25 559.38h1.25M393.75 559.38h1.25M400 559.38h1.25M402.5 559.38h1.25M405 559.38h1.25M395 560.62h1.25M401.25 560.62h2.5" stroke="#525252" stroke-width="1.25" fill="none"/>
<g stroke="#111" fill="none"><rect x="351.1" y="431.9" width="157.2" height="134.5" stroke-width="1.6"/><path d="M485.0 431.9V566.4M351.1 526.9H508.3" stroke-width="1.5"/></g>
<path d="M351.1 558.5h-3.0M351.1 552.5h-3.0M351.1 548.2h-3.0M351.1 544.9h-3.0M351.1 542.2h-3.0M351.1 539.9h-3.0M351.1 537.9h-3.0M351.1 536.1h-3.0M351.1 534.6h-4.8M351.1 524.3h-3.0M351.1 518.2h-3.0M351.1 514.0h-3.0M351.1 510.7h-3.0M351.1 507.9h-3.0M351.1 505.7h-3.0M351.1 503.7h-3.0M351.1 501.9h-3.0M351.1 500.3h-4.8M351.1 490.0h-3.0M351.1 484.0h-3.0M351.1 479.7h-3.0M351.1 476.4h-3.0M351.1 473.7h-3.0M351.1 471.4h-3.0M351.1 469.4h-3.0M351.1 467.7h-3.0M351.1 466.1h-4.8M351.1 455.8h-3.0M351.1 449.8h-3.0M351.1 445.5h-3.0M351.1 442.2h-3.0M351.1 439.5h-3.0M351.1 437.2h-3.0M351.1 435.2h-3.0M351.1 433.5h-3.0M351.1 431.9h-4.8" stroke="#111" stroke-width="1.5" fill="none"/>
<path d="M351.1 566.4v6.4M382.5 566.4v6.4M414.0 566.4v6.4M445.4 566.4v6.4M476.9 566.4v6.4M508.3 566.4v6.4" stroke="#111" stroke-width="1.5" fill="none"/>
<path d="M355.0 568.7v2.2M362.9 568.7v2.2M370.8 568.7v2.2M378.6 568.7v2.2M386.5 568.7v2.2M394.3 568.7v2.2M402.2 568.7v2.2M410.1 568.7v2.2M417.9 568.7v2.2M425.8 568.7v2.2M433.6 568.7v2.2M441.5 568.7v2.2M449.4 568.7v2.2M457.2 568.7v2.2M465.1 568.7v2.2M472.9 568.7v2.2M480.8 568.7v2.2M488.7 568.7v2.2M496.5 568.7v2.2M504.4 568.7v2.2" stroke="#111" stroke-width="1.7" fill="none"/>
<text x="324.3" y="572.4" font-size="12" stroke="#0a0a0a" stroke-width="0.3">10<tspan dy="-3.4" font-size="8">0</tspan></text>
<text x="324.3" y="540.2" font-size="12" stroke="#0a0a0a" stroke-width="0.3">10<tspan dy="-3.4" font-size="8">1</tspan></text>
<text x="324.3" y="505.5" font-size="12" stroke="#0a0a0a" stroke-width="0.3">10<tspan dy="-3.4" font-size="8">2</tspan></text>
<text x="324.3" y="470.9" font-size="12" stroke="#0a0a0a" stroke-width="0.3">10<tspan dy="-3.4" font-size="8">3</tspan></text>
<text x="324.3" y="436.3" font-size="12" stroke="#0a0a0a" stroke-width="0.3">10<tspan dy="-3.4" font-size="8">4</tspan></text>
<text x="351.2" y="585.1" font-size="14.5" text-anchor="middle" letter-spacing="-0.3" stroke="#0a0a0a" stroke-width="0.25">0</text>
<text x="379.3" y="585.1" font-size="14.5" text-anchor="middle" letter-spacing="-0.3" stroke="#0a0a0a" stroke-width="0.25">200</text>
<text x="409.9" y="585.1" font-size="14.5" text-anchor="middle" letter-spacing="-0.3" stroke="#0a0a0a" stroke-width="0.25">400</text>
<text x="442.1" y="585.1" font-size="14.5" text-anchor="middle" letter-spacing="-0.3" stroke="#0a0a0a" stroke-width="0.25">600</text>
<text x="474.4" y="585.1" font-size="14.5" text-anchor="middle" letter-spacing="-0.3" stroke="#0a0a0a" stroke-width="0.25">800</text>
<text x="505.1" y="585.1" font-size="14.5" text-anchor="middle" letter-spacing="-0.9" stroke="#0a0a0a" stroke-width="0.25">1000</text>
<text transform="translate(435.9 451.6) scale(1.182 1)" font-size="18" font-weight="bold">6<tspan font-style="italic">%</tspan></text>
</g>
<g id="R4">
<path d="M433.75 740.62h6.25M412.5 741.88h7.5M430 741.88h11.25M402.5 743.12h15M418.75 743.12h22.5M396.25 744.38h10M407.5 744.38h21.25M430 744.38h11.25M391.25 745.62h48.75M390 746.88h25M416.25 746.88h26.25M386.25 748.12h40M427.5 748.12h8.75M382.5 749.38h33.75M420 749.38h15M381.25 750.62h52.5M381.25 751.88h12.5M395 751.88h6.25M402.5 751.88h23.75M427.5 751.88h3.75M378.75 753.12h6.25M386.25 753.12h11.25M398.75 753.12h3.75M407.5 753.12h20M377.5 754.38h21.25M400 754.38h23.75M381.25 755.62h21.25M403.75 755.62h13.75M418.75 755.62h3.75" stroke="#666666" stroke-width="1.25" fill="none"/>
<path d="M397.5 703.12h1.25M407.5 710.62h1.25M422.5 730.62h1.25M411.25 731.88h1.25M417.5 736.88h1.25M423.75 736.88h1.25M428.75 736.88h1.25M413.75 738.12h1.25M417.5 738.12h1.25M433.75 738.12h1.25M436.25 738.12h1.25M412.5 739.38h1.25M417.5 739.38h1.25M425 739.38h1.25M427.5 739.38h2.5M436.25 739.38h1.25M438.75 739.38h1.25M412.5 740.62h1.25M416.25 740.62h1.25M418.75 740.62h1.25M421.25 740.62h2.5M425 740.62h2.5M430 740.62h2.5M406.25 741.88h1.25M421.25 741.88h1.25M423.75 741.88h2.5M427.5 741.88h1.25M397.5 743.12h2.5M441.25 745.62h1.25M387.5 746.88h1.25M438.75 748.12h2.5M417.5 749.38h1.25M436.25 750.62h1.25M403.75 753.12h2.5" stroke="#525252" stroke-width="1.25" fill="none"/>
<g stroke="#111" fill="none"><rect x="350.8" y="623.0" width="156.8" height="134.9" stroke-width="1.6"/><path d="M446.9 623.0V757.9M350.8 740.9H507.6" stroke-width="1.5"/></g>
<path d="M350.8 750.0h-3.0M350.8 743.9h-3.0M350.8 739.6h-3.0M350.8 736.3h-3.0M350.8 733.6h-3.0M350.8 731.3h-3.0M350.8 729.3h-3.0M350.8 727.5h-3.0M350.8 726.0h-4.8M350.8 715.6h-3.0M350.8 709.6h-3.0M350.8 705.3h-3.0M350.8 702.0h-3.0M350.8 699.3h-3.0M350.8 697.0h-3.0M350.8 695.0h-3.0M350.8 693.2h-3.0M350.8 691.6h-4.8M350.8 681.3h-3.0M350.8 675.3h-3.0M350.8 671.0h-3.0M350.8 667.7h-3.0M350.8 664.9h-3.0M350.8 662.6h-3.0M350.8 660.7h-3.0M350.8 658.9h-3.0M350.8 657.3h-4.8M350.8 647.0h-3.0M350.8 640.9h-3.0M350.8 636.7h-3.0M350.8 633.3h-3.0M350.8 630.6h-3.0M350.8 628.3h-3.0M350.8 626.3h-3.0M350.8 624.6h-3.0M350.8 623.0h-4.8" stroke="#111" stroke-width="1.5" fill="none"/>
<path d="M350.8 757.9v6.4M382.2 757.9v6.4M413.5 757.9v6.4M444.9 757.9v6.4M476.2 757.9v6.4M507.6 757.9v6.4" stroke="#111" stroke-width="1.5" fill="none"/>
<path d="M354.7 760.2v2.2M362.6 760.2v2.2M370.4 760.2v2.2M378.2 760.2v2.2M386.1 760.2v2.2M393.9 760.2v2.2M401.8 760.2v2.2M409.6 760.2v2.2M417.4 760.2v2.2M425.3 760.2v2.2M433.1 760.2v2.2M441.0 760.2v2.2M448.8 760.2v2.2M456.6 760.2v2.2M464.5 760.2v2.2M472.3 760.2v2.2M480.2 760.2v2.2M488.0 760.2v2.2M495.8 760.2v2.2M503.7 760.2v2.2" stroke="#111" stroke-width="1.7" fill="none"/>
<text x="324.0" y="763.9" font-size="12" stroke="#0a0a0a" stroke-width="0.3">10<tspan dy="-3.4" font-size="8">0</tspan></text>
<text x="324.0" y="731.6" font-size="12" stroke="#0a0a0a" stroke-width="0.3">10<tspan dy="-3.4" font-size="8">1</tspan></text>
<text x="324.0" y="696.8" font-size="12" stroke="#0a0a0a" stroke-width="0.3">10<tspan dy="-3.4" font-size="8">2</tspan></text>
<text x="324.0" y="662.1" font-size="12" stroke="#0a0a0a" stroke-width="0.3">10<tspan dy="-3.4" font-size="8">3</tspan></text>
<text x="324.0" y="627.4" font-size="12" stroke="#0a0a0a" stroke-width="0.3">10<tspan dy="-3.4" font-size="8">4</tspan></text>
<text x="350.9" y="776.4" font-size="14.5" text-anchor="middle" letter-spacing="-0.3" stroke="#0a0a0a" stroke-width="0.25">0</text>
<text x="378.9" y="776.4" font-size="14.5" text-anchor="middle" letter-spacing="-0.3" stroke="#0a0a0a" stroke-width="0.25">200</text>
<text x="409.5" y="776.4" font-size="14.5" text-anchor="middle" letter-spacing="-0.3" stroke="#0a0a0a" stroke-width="0.25">400</text>
<text x="441.5" y="776.4" font-size="14.5" text-anchor="middle" letter-spacing="-0.3" stroke="#0a0a0a" stroke-width="0.25">600</text>
<text x="473.8" y="776.4" font-size="14.5" text-anchor="middle" letter-spacing="-0.3" stroke="#0a0a0a" stroke-width="0.25">800</text>
<text x="504.4" y="776.4" font-size="14.5" text-anchor="middle" letter-spacing="-0.9" stroke="#0a0a0a" stroke-width="0.25">1000</text>
<text transform="translate(392.3 642.8) scale(1.069 1)" font-size="18" font-weight="bold">0.05<tspan font-style="italic">%</tspan></text>
</g>
</svg>
</body></html>
